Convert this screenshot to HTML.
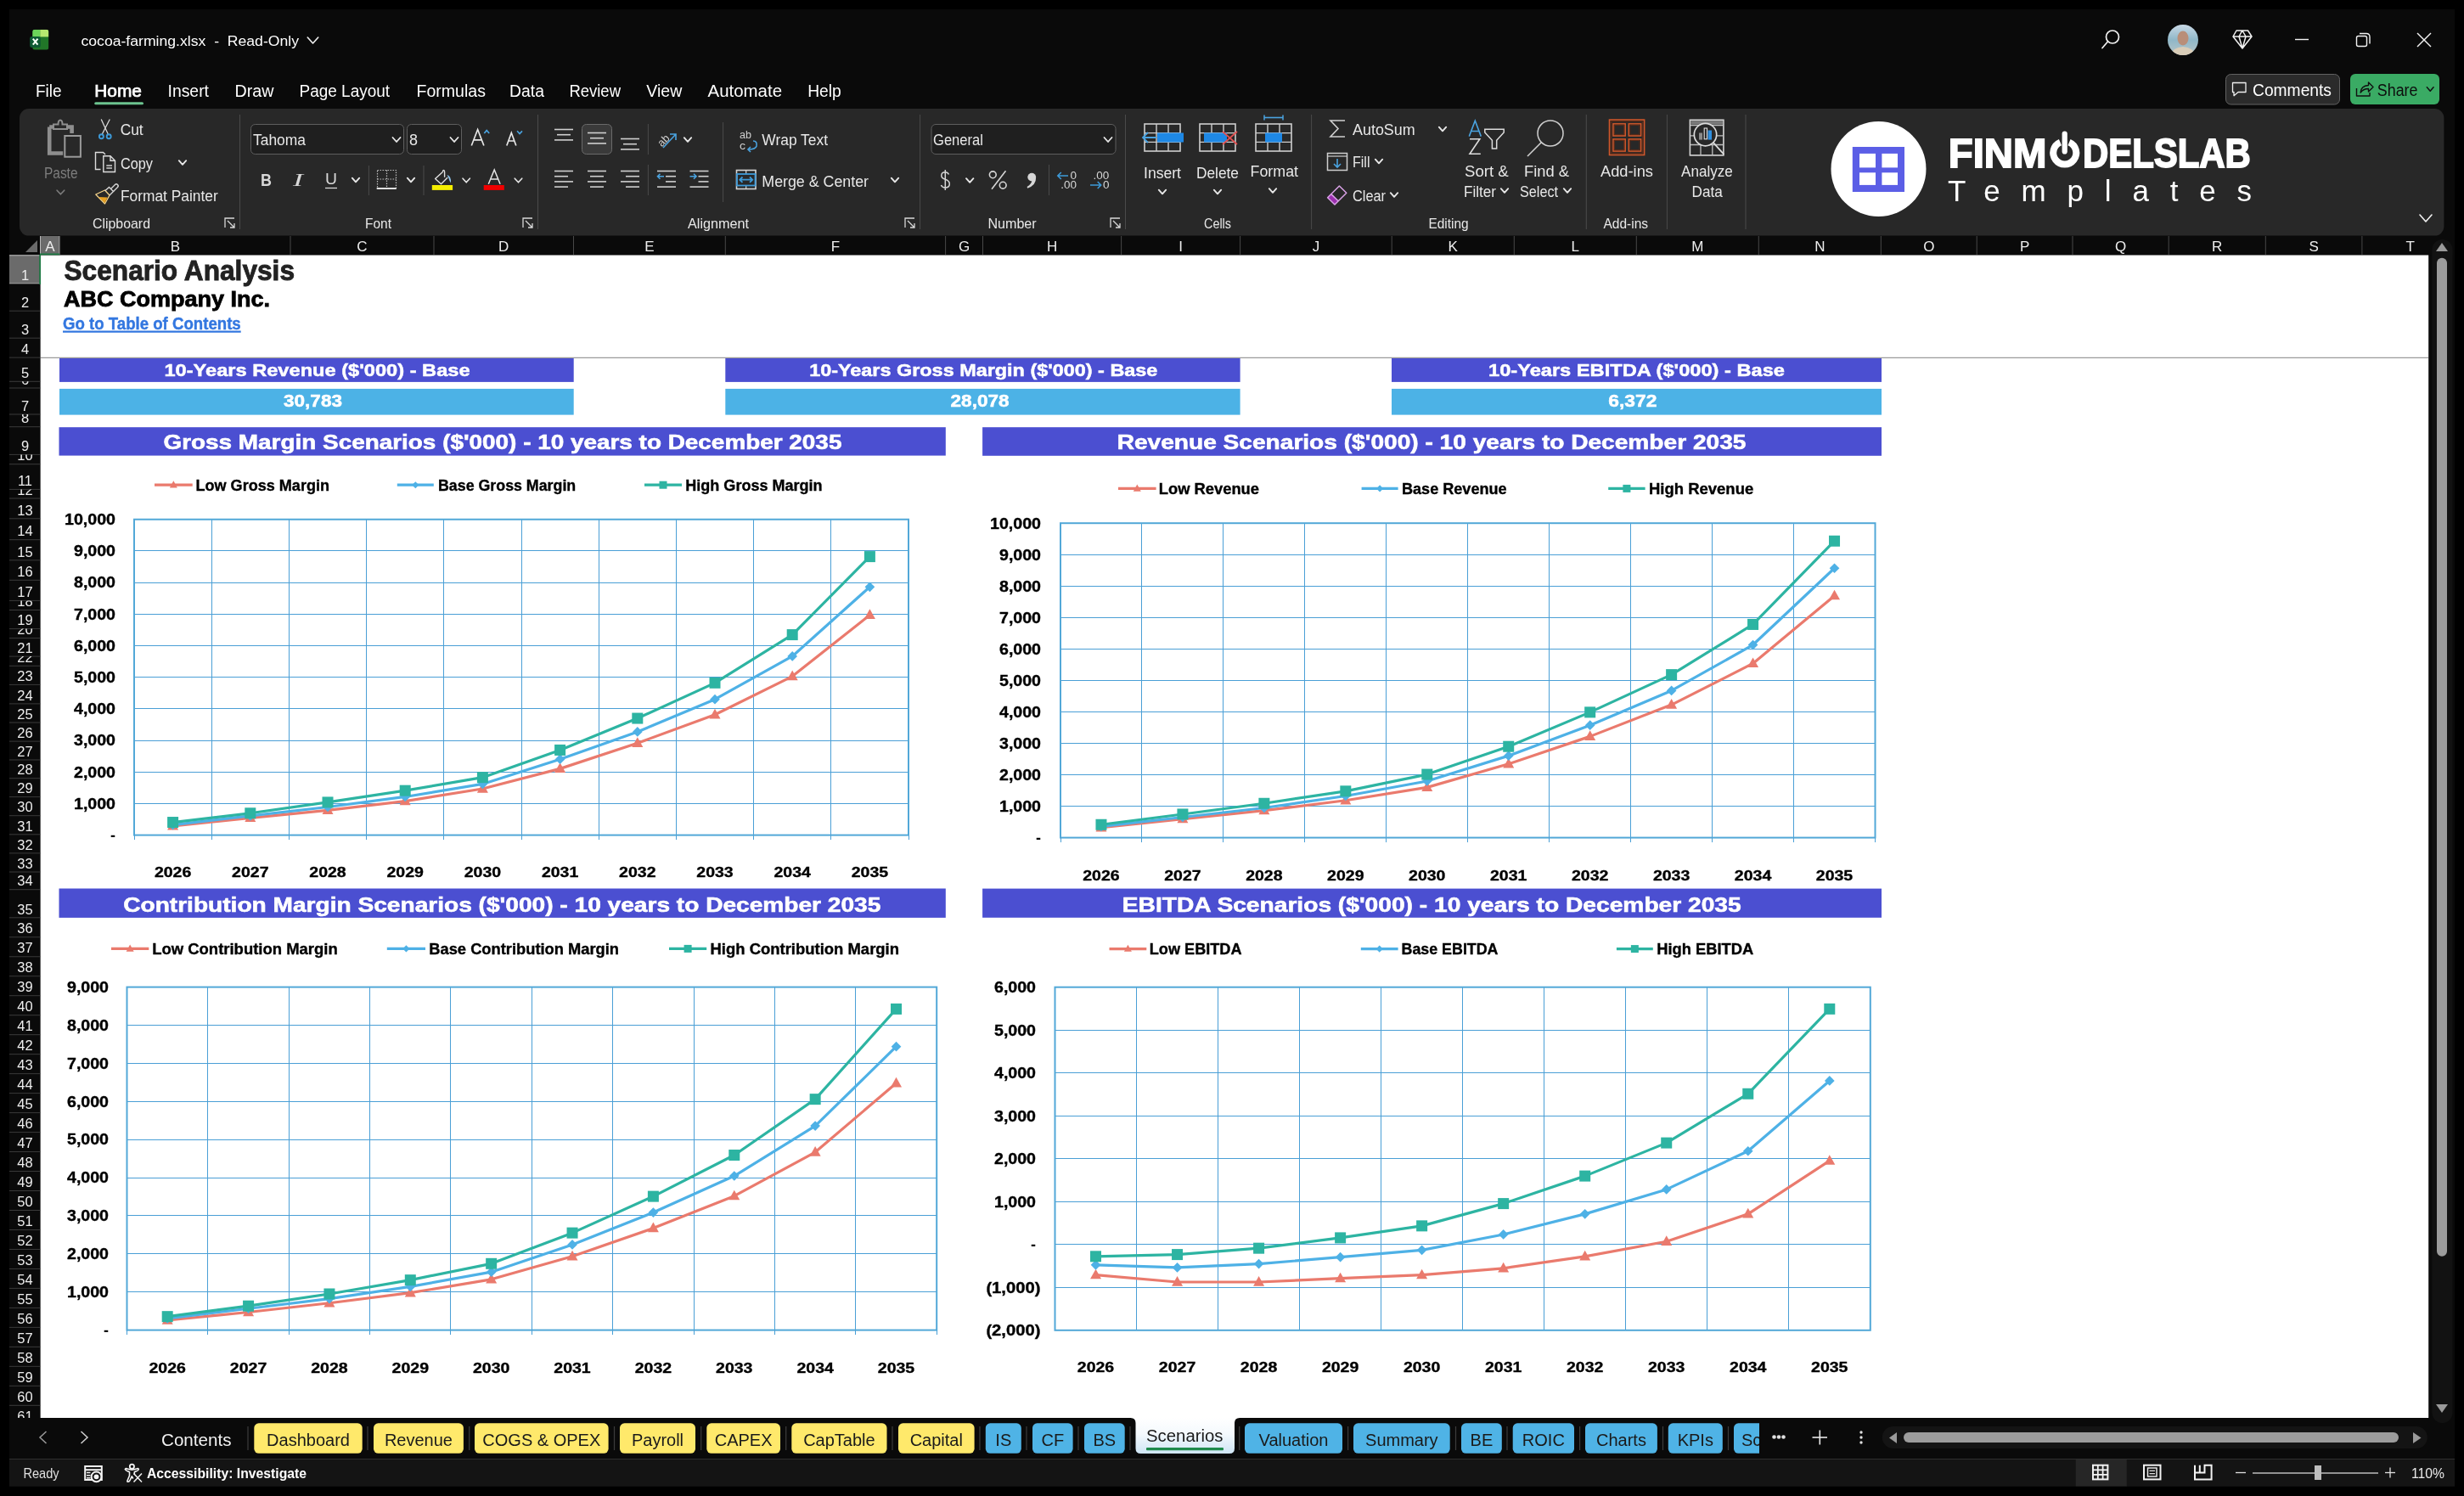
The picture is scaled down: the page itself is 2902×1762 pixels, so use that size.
<!DOCTYPE html><html><head><meta charset="utf-8"><title>cocoa-farming.xlsx - Excel</title><style>html,body{margin:0;padding:0;background:#000;overflow:hidden;width:2902px;height:1762px}svg{display:block;will-change:transform}</style></head><body>
<svg width="2902" height="1762" viewBox="0 0 2902 1762" shape-rendering="auto">
<rect x="0.00" y="0.00" width="2902.00" height="1762.00" fill="#000" />
<rect x="11.00" y="11.00" width="2880.00" height="1740.00" fill="#0a0a0a" />
<clipPath id="xl"><rect x="38.2" y="34.8" width="19.2" height="23.9" rx="3"/></clipPath><g clip-path="url(#xl)">
<rect x="38.20" y="34.80" width="19.20" height="23.90" fill="#217628" />
<rect x="38.20" y="34.80" width="9.10" height="8.60" fill="#6cd35a" />
<rect x="47.30" y="34.80" width="10.10" height="8.60" fill="#b8e870" />
</g>
<rect x="35.2" y="43" width="12.6" height="13" rx="2.2" fill="#0e5a33"/>
<path d="M38.8,45.6 L44.5,52.6 M44.5,45.6 L38.8,52.6" stroke="#f4fff4" fill="none" stroke-width="2.1" />
<text x="95.50" y="53.80" font-family='"Liberation Sans", sans-serif' font-size="17.2" font-weight="normal" fill="#ffffff" text-anchor="start" textLength="256.50" lengthAdjust="spacingAndGlyphs" xml:space="preserve">cocoa-farming.xlsx  -  Read-Only</text>
<path d="M362.25,44.00 L368.50,51.00 L374.75,44.00" stroke="#f0f0f0" fill="none" stroke-width="1.6" stroke-linecap="round" stroke-linejoin="round"/>
<circle cx="2488" cy="43.5" r="7.5" stroke="#f2f2f2" stroke-width="1.7" fill="none"/>
<line x1="2482.50" y1="49.00" x2="2476.00" y2="56.50" stroke="#f2f2f2" stroke-width="1.7" stroke-linecap="round"/>
<defs><radialGradient id="av" cx="50%" cy="45%" r="55%"><stop offset="0" stop-color="#c9a08a"/><stop offset="0.45" stop-color="#b88f7a"/><stop offset="0.7" stop-color="#8fa6b0"/><stop offset="1" stop-color="#6f8ea0"/></radialGradient></defs>
<defs><linearGradient id="avbg" x1="0" y1="0" x2="0" y2="1"><stop offset="0" stop-color="#c9d9e6"/><stop offset="0.5" stop-color="#8fb7c8"/><stop offset="1" stop-color="#b9c6c8"/></linearGradient></defs>
<clipPath id="avc"><circle cx="2571" cy="47" r="18"/></clipPath><g clip-path="url(#avc)">
<rect x="2553" y="29" width="36" height="36" fill="url(#avbg)"/>
<ellipse cx="2571" cy="45" rx="6.5" ry="8.5" fill="#b98e78"/>
<path d="M2556,66 Q2558,56 2571,55 Q2584,56 2586,66 Z" fill="#d9cdb8"/>
</g>
<path d="M2634,36 L2647.5,36 L2652,43 L2641,57 L2630,43 Z M2630,43 L2652,43 M2637,43 L2641,57 L2645,43 M2637,43 L2640.8,36 M2645,43 L2641,36" stroke="#f2f2f2" fill="none" stroke-width="1.5" stroke-linejoin="round"/>
<line x1="2703.00" y1="46.50" x2="2719.00" y2="46.50" stroke="#f2f2f2" stroke-width="1.4" />
<rect x="2775.5" y="42.5" width="12" height="12" rx="2" stroke="#f2f2f2" stroke-width="1.4" fill="none"/>
<path d="M2779,39.5 L2787,39.5 Q2791,39.5 2791,43.5 L2791,51.5" stroke="#f2f2f2" fill="none" stroke-width="1.4" />
<line x1="2847.00" y1="39.00" x2="2863.00" y2="55.00" stroke="#f2f2f2" stroke-width="1.5" />
<line x1="2863.00" y1="39.00" x2="2847.00" y2="55.00" stroke="#f2f2f2" stroke-width="1.5" />
<text x="41.90" y="113.80" font-family='"Liberation Sans", sans-serif' font-size="19.3" font-weight="normal" fill="#ffffff" text-anchor="start" textLength="30.60" lengthAdjust="spacingAndGlyphs" >File</text>
<text x="111.20" y="113.80" font-family='"Liberation Sans", sans-serif' font-size="19.3" font-weight="normal" fill="#ffffff" text-anchor="start" textLength="55.70" lengthAdjust="spacingAndGlyphs" stroke="#ffffff" stroke-width="0.7">Home</text>
<text x="197.50" y="113.80" font-family='"Liberation Sans", sans-serif' font-size="19.3" font-weight="normal" fill="#ffffff" text-anchor="start" textLength="48.50" lengthAdjust="spacingAndGlyphs" >Insert</text>
<text x="276.50" y="113.80" font-family='"Liberation Sans", sans-serif' font-size="19.3" font-weight="normal" fill="#ffffff" text-anchor="start" textLength="46.00" lengthAdjust="spacingAndGlyphs" >Draw</text>
<text x="352.50" y="113.80" font-family='"Liberation Sans", sans-serif' font-size="19.3" font-weight="normal" fill="#ffffff" text-anchor="start" textLength="106.60" lengthAdjust="spacingAndGlyphs" >Page Layout</text>
<text x="490.50" y="113.80" font-family='"Liberation Sans", sans-serif' font-size="19.3" font-weight="normal" fill="#ffffff" text-anchor="start" textLength="81.40" lengthAdjust="spacingAndGlyphs" >Formulas</text>
<text x="600.10" y="113.80" font-family='"Liberation Sans", sans-serif' font-size="19.3" font-weight="normal" fill="#ffffff" text-anchor="start" textLength="40.80" lengthAdjust="spacingAndGlyphs" >Data</text>
<text x="670.40" y="113.80" font-family='"Liberation Sans", sans-serif' font-size="19.3" font-weight="normal" fill="#ffffff" text-anchor="start" textLength="60.60" lengthAdjust="spacingAndGlyphs" >Review</text>
<text x="761.30" y="113.80" font-family='"Liberation Sans", sans-serif' font-size="19.3" font-weight="normal" fill="#ffffff" text-anchor="start" textLength="42.00" lengthAdjust="spacingAndGlyphs" >View</text>
<text x="833.50" y="113.80" font-family='"Liberation Sans", sans-serif' font-size="19.3" font-weight="normal" fill="#ffffff" text-anchor="start" textLength="87.50" lengthAdjust="spacingAndGlyphs" >Automate</text>
<text x="951.20" y="113.80" font-family='"Liberation Sans", sans-serif' font-size="19.3" font-weight="normal" fill="#ffffff" text-anchor="start" textLength="39.60" lengthAdjust="spacingAndGlyphs" >Help</text>
<rect x="111.20" y="120.30" width="57.80" height="3.00" fill="#6cc38f" rx="1.5" />
<rect x="2621.5" y="87.5" width="134" height="35.5" rx="6" fill="#2b2b2b" stroke="#626262" stroke-width="1"/>
<path d="M2629.5,97.5 L2645,97.5 L2645,108.5 L2636,108.5 L2631,112.7 L2631,108.5 L2629.5,108.5 Z" stroke="#f0f0f0" fill="none" stroke-width="1.3" stroke-linejoin="round"/>
<text x="2653.00" y="113.00" font-family='"Liberation Sans", sans-serif' font-size="19.5" font-weight="normal" fill="#ffffff" text-anchor="start" textLength="93.00" lengthAdjust="spacingAndGlyphs" >Comments</text>
<rect x="2768.00" y="87.00" width="105.00" height="36.00" fill="#3aab64" rx="6" />
<path d="M2775.5,104 L2775.5,113 L2791,113 L2791,109 M2780,109.5 Q2780.5,101 2789.5,100.5 L2789.5,97 L2795,102.5 L2789.5,108 L2789.5,104.5 Q2783,104.5 2780,109.5" stroke="#101010" fill="none" stroke-width="1.4" stroke-linejoin="round"/>
<text x="2799.80" y="113.00" font-family='"Liberation Sans", sans-serif' font-size="19.5" font-weight="normal" fill="#0d0d0d" text-anchor="start" textLength="47.70" lengthAdjust="spacingAndGlyphs" >Share</text>
<path d="M2858.35,102.70 L2862.20,107.30 L2866.05,102.70" stroke="#111" fill="none" stroke-width="1.5" stroke-linecap="round" stroke-linejoin="round"/>
<rect x="23" y="128" width="2855.4" height="149.6" rx="11" fill="#282828"/>
<text x="109.00" y="269.00" font-family='"Liberation Sans", sans-serif' font-size="17" font-weight="normal" fill="#e8e8e8" text-anchor="start" textLength="68.00" lengthAdjust="spacingAndGlyphs" >Clipboard</text>
<text x="430.00" y="269.00" font-family='"Liberation Sans", sans-serif' font-size="17" font-weight="normal" fill="#e8e8e8" text-anchor="start" textLength="31.00" lengthAdjust="spacingAndGlyphs" >Font</text>
<text x="810.00" y="269.00" font-family='"Liberation Sans", sans-serif' font-size="17" font-weight="normal" fill="#e8e8e8" text-anchor="start" textLength="72.00" lengthAdjust="spacingAndGlyphs" >Alignment</text>
<text x="1163.40" y="269.00" font-family='"Liberation Sans", sans-serif' font-size="17" font-weight="normal" fill="#e8e8e8" text-anchor="start" textLength="57.30" lengthAdjust="spacingAndGlyphs" >Number</text>
<text x="1418.00" y="269.00" font-family='"Liberation Sans", sans-serif' font-size="17" font-weight="normal" fill="#e8e8e8" text-anchor="start" textLength="32.00" lengthAdjust="spacingAndGlyphs" >Cells</text>
<text x="1682.50" y="269.00" font-family='"Liberation Sans", sans-serif' font-size="17" font-weight="normal" fill="#e8e8e8" text-anchor="start" textLength="47.10" lengthAdjust="spacingAndGlyphs" >Editing</text>
<text x="1888.50" y="269.00" font-family='"Liberation Sans", sans-serif' font-size="17" font-weight="normal" fill="#e8e8e8" text-anchor="start" textLength="52.50" lengthAdjust="spacingAndGlyphs" >Add-ins</text>
<line x1="282.50" y1="135.00" x2="282.50" y2="270.00" stroke="#4a4a4a" stroke-width="1" />
<line x1="633.50" y1="135.00" x2="633.50" y2="270.00" stroke="#4a4a4a" stroke-width="1" />
<line x1="1083.60" y1="135.00" x2="1083.60" y2="270.00" stroke="#4a4a4a" stroke-width="1" />
<line x1="1325.50" y1="135.00" x2="1325.50" y2="270.00" stroke="#4a4a4a" stroke-width="1" />
<line x1="1544.60" y1="135.00" x2="1544.60" y2="270.00" stroke="#4a4a4a" stroke-width="1" />
<line x1="1868.30" y1="135.00" x2="1868.30" y2="270.00" stroke="#4a4a4a" stroke-width="1" />
<line x1="1963.40" y1="135.00" x2="1963.40" y2="270.00" stroke="#4a4a4a" stroke-width="1" />
<line x1="2056.00" y1="135.00" x2="2056.00" y2="270.00" stroke="#4a4a4a" stroke-width="1" />
<path d="M265,268 L265,257 L276,257 M268,260 L276,268 M276,263 L276,268 L271,268" stroke="#d8d8d8" fill="none" stroke-width="1.3" />
<path d="M616,268 L616,257 L627,257 M619,260 L627,268 M627,263 L627,268 L622,268" stroke="#d8d8d8" fill="none" stroke-width="1.3" />
<path d="M1066,268 L1066,257 L1077,257 M1069,260 L1077,268 M1077,263 L1077,268 L1072,268" stroke="#d8d8d8" fill="none" stroke-width="1.3" />
<path d="M1308,268 L1308,257 L1319,257 M1311,260 L1319,268 M1319,263 L1319,268 L1314,268" stroke="#d8d8d8" fill="none" stroke-width="1.3" />
<path d="M58.2,149.5 L58.2,180.5 L74.2,180.5 M84.6,157 L84.6,149.5 L78.5,149.5 M63.5,149.5 L58.2,149.5" stroke="#8e8e8e" stroke-width="4.6" fill="none"/>
<path d="M63,152 L63,146.5 L68.5,146.5 Q68.5,141.5 71,141.5 Q73.5,141.5 73.5,146.5 L79,146.5 L79,152 Z" stroke="#8e8e8e" stroke-width="2" fill="#282828"/>
<rect x="76.3" y="160" width="18.6" height="24.7" stroke="#9a9a9a" stroke-width="2" fill="none"/>
<text x="52.00" y="210.00" font-family='"Liberation Sans", sans-serif' font-size="17.5" font-weight="normal" fill="#7d7d7d" text-anchor="start" textLength="39.50" lengthAdjust="spacingAndGlyphs" >Paste</text>
<path d="M67.10,224.20 L71.40,228.80 L75.70,224.20" stroke="#7d7d7d" fill="none" stroke-width="1.6" stroke-linecap="round" stroke-linejoin="round"/>
<path d="M119.2,140.5 L127.3,158 M129.3,140.5 L120.3,158" stroke="#d8d8d8" fill="none" stroke-width="1.3" />
<circle cx="119.4" cy="160.7" r="2.5" stroke="#3d9ad8" stroke-width="1.9" fill="none"/><circle cx="128.2" cy="160.7" r="2.5" stroke="#3d9ad8" stroke-width="1.9" fill="none"/>
<text x="141.70" y="159.00" font-family='"Liberation Sans", sans-serif' font-size="17.5" font-weight="normal" fill="#e8e8e8" text-anchor="start" textLength="27.00" lengthAdjust="spacingAndGlyphs" >Cut</text>
<path d="M118.5,199.5 L112.5,199.5 L112.5,179.5 L121.5,179.5 L124,182" stroke="#dcdcdc" fill="none" stroke-width="1.4" />
<path d="M121.8,183.7 L130,183.7 L135.5,189.2 L135.5,202.5 L121.8,202.5 Z M130,183.7 L130,189.2 L135.5,189.2" stroke="#dcdcdc" fill="none" stroke-width="1.4" />
<line x1="125.30" y1="195.00" x2="132.00" y2="195.00" stroke="#dcdcdc" stroke-width="1.4" />
<line x1="125.30" y1="198.00" x2="132.00" y2="198.00" stroke="#dcdcdc" stroke-width="1.4" />
<text x="142.00" y="198.50" font-family='"Liberation Sans", sans-serif' font-size="17.5" font-weight="normal" fill="#e8e8e8" text-anchor="start" textLength="38.00" lengthAdjust="spacingAndGlyphs" >Copy</text>
<path d="M210.80,189.20 L215.00,193.80 L219.20,189.20" stroke="#e8e8e8" fill="none" stroke-width="1.9" stroke-linecap="round" stroke-linejoin="round"/>
<path d="M112.8,229 L123.5,224 L129,230 L123.5,240 Z" stroke="#f3d28a" fill="none" stroke-width="1.3" stroke-linejoin="round"/>
<path d="M116,232 L126.5,232.5 L123.5,239 Z" stroke="none" fill="#e8a020" stroke-width="1" />
<path d="M124,224.5 L128.5,220.5 L133.5,225.5 L129,230" stroke="#d8d8d8" fill="none" stroke-width="1.4" />
<path d="M130.5,222.5 L135.5,217.5 Q137,216 138.5,217.5 Q140,219 138.5,220.5 L133.5,225.5" stroke="#d8d8d8" fill="none" stroke-width="1.4" />
<text x="142.00" y="237.00" font-family='"Liberation Sans", sans-serif' font-size="17.5" font-weight="normal" fill="#e8e8e8" text-anchor="start" textLength="114.70" lengthAdjust="spacingAndGlyphs" >Format Painter</text>
<rect x="295.5" y="146.5" width="180" height="35" rx="5" fill="#1f1f1f" stroke="#5e5e5e" stroke-width="1"/>
<text x="298.00" y="171.00" font-family='"Liberation Sans", sans-serif' font-size="17.5" font-weight="normal" fill="#e8e8e8" text-anchor="start" textLength="62.00" lengthAdjust="spacingAndGlyphs" >Tahoma</text>
<path d="M462.50,162.00 L467.00,167.00 L471.50,162.00" stroke="#e8e8e8" fill="none" stroke-width="1.8" stroke-linecap="round" stroke-linejoin="round"/>
<rect x="479.5" y="146.5" width="64" height="35" rx="5" fill="#1f1f1f" stroke="#5e5e5e" stroke-width="1"/>
<text x="482.00" y="171.00" font-family='"Liberation Sans", sans-serif' font-size="17.5" font-weight="normal" fill="#e8e8e8" text-anchor="start" textLength="10.00" lengthAdjust="spacingAndGlyphs" >8</text>
<path d="M530.50,162.00 L535.00,167.00 L539.50,162.00" stroke="#e8e8e8" fill="none" stroke-width="1.8" stroke-linecap="round" stroke-linejoin="round"/>
<path d="M555.3,171.5 L562.6,152.5 L569.9,171.5 M558,164.8 L567.2,164.8" stroke="#e6e6e6" fill="none" stroke-width="1.7" />
<path d="M570.3,157 L573.2,153.6 L576.2,157" stroke="#4aa3e0" fill="none" stroke-width="1.7" />
<path d="M596.8,171.5 L602.3,156.5 L607.8,171.5 M598.9,166 L605.7,166" stroke="#e6e6e6" fill="none" stroke-width="1.7" />
<path d="M609.1,154.3 L612,157.5 L615,154.3" stroke="#4aa3e0" fill="none" stroke-width="1.7" />
<text x="307.00" y="219.00" font-family='"Liberation Sans", sans-serif' font-size="20" font-weight="bold" fill="#d8d8d8" text-anchor="start" textLength="13.00" lengthAdjust="spacingAndGlyphs" >B</text>
<text x="345.00" y="219.00" font-family='Liberation Serif' font-size="21" font-weight="normal" fill="#d8d8d8" text-anchor="start" textLength="12.00" lengthAdjust="spacingAndGlyphs" font-style="italic">I</text>
<text x="383.00" y="217.00" font-family='"Liberation Sans", sans-serif' font-size="19" font-weight="normal" fill="#d8d8d8" text-anchor="start" textLength="14.00" lengthAdjust="spacingAndGlyphs" >U</text>
<line x1="383.00" y1="221.50" x2="397.00" y2="221.50" stroke="#d8d8d8" stroke-width="1.3" />
<path d="M414.80,209.70 L419.00,214.30 L423.20,209.70" stroke="#e8e8e8" fill="none" stroke-width="1.9" stroke-linecap="round" stroke-linejoin="round"/>
<line x1="434.40" y1="195.00" x2="434.40" y2="230.00" stroke="#4a4a4a" stroke-width="1" />
<rect x="444.5" y="200.5" width="22" height="21" stroke="#bdbdbd" stroke-width="1.2" stroke-dasharray="1.5,1.5" fill="none"/>
<line x1="455.50" y1="200.50" x2="455.50" y2="221.50" stroke="#bdbdbd" stroke-width="1.2" stroke-dasharray="1.5,1.5"/>
<line x1="444.50" y1="211.00" x2="466.50" y2="211.00" stroke="#bdbdbd" stroke-width="1.2" stroke-dasharray="1.5,1.5"/>
<line x1="443.70" y1="222.00" x2="466.80" y2="222.00" stroke="#e0e0e0" stroke-width="2" />
<path d="M479.80,209.70 L484.00,214.30 L488.20,209.70" stroke="#e8e8e8" fill="none" stroke-width="1.9" stroke-linecap="round" stroke-linejoin="round"/>
<line x1="499.00" y1="195.00" x2="499.00" y2="230.00" stroke="#4a4a4a" stroke-width="1" />
<path d="M521.4,202.5 L512.6,210.6 L519.5,216.7 L527.2,209 M521.4,202.5 Q521.4,200.5 522.5,200.5 Q523.6,200.5 523.6,202.5 L523.6,208.8" stroke="#e0e0e0" fill="none" stroke-width="1.4" stroke-linejoin="round"/>
<path d="M526.5,206 Q531.5,207 531,215.5 Q529.5,214 528.5,210 Z" stroke="none" fill="#8fc6ee" stroke-width="1" />
<rect x="508.80" y="218.00" width="24.30" height="5.90" fill="#f5ee00" />
<path d="M545.05,210.20 L549.20,214.80 L553.35,210.20" stroke="#e8e8e8" fill="none" stroke-width="1.6" stroke-linecap="round" stroke-linejoin="round"/>
<path d="M575.3,216.8 L582.2,200 L589.1,216.8 M577.8,211 L586.6,211" stroke="#e6e6e6" fill="none" stroke-width="1.5" />
<rect x="569.70" y="218.00" width="24.10" height="5.90" fill="#f00000" />
<path d="M606.25,210.20 L610.50,214.80 L614.75,210.20" stroke="#e8e8e8" fill="none" stroke-width="1.6" stroke-linecap="round" stroke-linejoin="round"/>
<line x1="653.00" y1="152.50" x2="675.00" y2="152.50" stroke="#d0d0d0" stroke-width="1.6" />
<line x1="656.00" y1="158.70" x2="672.00" y2="158.70" stroke="#d0d0d0" stroke-width="1.6" />
<line x1="653.00" y1="164.90" x2="675.00" y2="164.90" stroke="#d0d0d0" stroke-width="1.6" />
<rect x="685.5" y="146.5" width="35" height="35" rx="5" fill="#3a3a3a" stroke="#6a6a6a" stroke-width="1"/>
<line x1="692.00" y1="156.50" x2="714.00" y2="156.50" stroke="#d0d0d0" stroke-width="1.6" />
<line x1="695.00" y1="162.70" x2="711.00" y2="162.70" stroke="#d0d0d0" stroke-width="1.6" />
<line x1="692.00" y1="168.90" x2="714.00" y2="168.90" stroke="#d0d0d0" stroke-width="1.6" />
<line x1="731.00" y1="163.50" x2="753.00" y2="163.50" stroke="#d0d0d0" stroke-width="1.6" />
<line x1="734.00" y1="169.70" x2="750.00" y2="169.70" stroke="#d0d0d0" stroke-width="1.6" />
<line x1="731.00" y1="175.90" x2="753.00" y2="175.90" stroke="#d0d0d0" stroke-width="1.6" />
<line x1="763.40" y1="146.00" x2="763.40" y2="182.00" stroke="#4a4a4a" stroke-width="1" />
<text x="774.00" y="170.00" font-family='"Liberation Sans", sans-serif' font-size="13" font-weight="normal" fill="#d0d0d0" text-anchor="start" textLength="14.00" lengthAdjust="spacingAndGlyphs" transform="rotate(-45 781 165)">ab</text>
<path d="M781,174 L796,158 M789,158 L796,158 L796,165" stroke="#4aa3e0" fill="none" stroke-width="1.6" />
<path d="M805.80,162.20 L810.00,166.80 L814.20,162.20" stroke="#e8e8e8" fill="none" stroke-width="1.9" stroke-linecap="round" stroke-linejoin="round"/>
<line x1="851.60" y1="144.00" x2="851.60" y2="238.00" stroke="#4a4a4a" stroke-width="1" />
<text x="871.00" y="163.00" font-family='"Liberation Sans", sans-serif' font-size="12" font-weight="normal" fill="#d0d0d0" text-anchor="start" textLength="14.00" lengthAdjust="spacingAndGlyphs" >ab</text>
<text x="871.00" y="176.00" font-family='"Liberation Sans", sans-serif' font-size="12" font-weight="normal" fill="#d0d0d0" text-anchor="start" textLength="7.00" lengthAdjust="spacingAndGlyphs" >c</text>
<path d="M887,166 Q892,166 891,172 Q890,176 881,176 M884,173 L881,176 L884,179" stroke="#4aa3e0" fill="none" stroke-width="1.6" />
<text x="897.30" y="171.00" font-family='"Liberation Sans", sans-serif' font-size="17.5" font-weight="normal" fill="#e8e8e8" text-anchor="start" textLength="77.70" lengthAdjust="spacingAndGlyphs" >Wrap Text</text>
<line x1="653.00" y1="201.50" x2="675.00" y2="201.50" stroke="#d0d0d0" stroke-width="1.6" />
<line x1="653.00" y1="207.70" x2="669.00" y2="207.70" stroke="#d0d0d0" stroke-width="1.6" />
<line x1="653.00" y1="213.90" x2="675.00" y2="213.90" stroke="#d0d0d0" stroke-width="1.6" />
<line x1="653.00" y1="220.10" x2="669.00" y2="220.10" stroke="#d0d0d0" stroke-width="1.6" />
<line x1="692.00" y1="201.50" x2="714.00" y2="201.50" stroke="#d0d0d0" stroke-width="1.6" />
<line x1="695.00" y1="207.70" x2="711.00" y2="207.70" stroke="#d0d0d0" stroke-width="1.6" />
<line x1="692.00" y1="213.90" x2="714.00" y2="213.90" stroke="#d0d0d0" stroke-width="1.6" />
<line x1="695.00" y1="220.10" x2="711.00" y2="220.10" stroke="#d0d0d0" stroke-width="1.6" />
<line x1="731.00" y1="201.50" x2="753.00" y2="201.50" stroke="#d0d0d0" stroke-width="1.6" />
<line x1="737.00" y1="207.70" x2="753.00" y2="207.70" stroke="#d0d0d0" stroke-width="1.6" />
<line x1="731.00" y1="213.90" x2="753.00" y2="213.90" stroke="#d0d0d0" stroke-width="1.6" />
<line x1="737.00" y1="220.10" x2="753.00" y2="220.10" stroke="#d0d0d0" stroke-width="1.6" />
<line x1="763.40" y1="194.00" x2="763.40" y2="230.00" stroke="#4a4a4a" stroke-width="1" />
<line x1="774.00" y1="201.50" x2="796.00" y2="201.50" stroke="#d0d0d0" stroke-width="1.6" />
<line x1="784.00" y1="207.70" x2="796.00" y2="207.70" stroke="#d0d0d0" stroke-width="1.6" />
<line x1="784.00" y1="213.90" x2="796.00" y2="213.90" stroke="#d0d0d0" stroke-width="1.6" />
<line x1="774.00" y1="220.10" x2="796.00" y2="220.10" stroke="#d0d0d0" stroke-width="1.6" />
<path d="M782,207.7 L774.5,207.7 M777.5,204.7 L774.5,207.7 L777.5,210.7" stroke="#4aa3e0" fill="none" stroke-width="1.6" />
<line x1="812.50" y1="201.50" x2="834.50" y2="201.50" stroke="#d0d0d0" stroke-width="1.6" />
<line x1="822.50" y1="207.70" x2="834.50" y2="207.70" stroke="#d0d0d0" stroke-width="1.6" />
<line x1="822.50" y1="213.90" x2="834.50" y2="213.90" stroke="#d0d0d0" stroke-width="1.6" />
<line x1="812.50" y1="220.10" x2="834.50" y2="220.10" stroke="#d0d0d0" stroke-width="1.6" />
<path d="M812.5,207.7 L820,207.7 M817,204.7 L820,207.7 L817,210.7" stroke="#4aa3e0" fill="none" stroke-width="1.6" />
<rect x="867.5" y="200.5" width="22.5" height="22" stroke="#d6d6d6" stroke-width="1.6" fill="none"/>
<line x1="878.70" y1="200.50" x2="878.70" y2="205.00" stroke="#d6d6d6" stroke-width="1.2" />
<line x1="878.70" y1="218.50" x2="878.70" y2="223.00" stroke="#d6d6d6" stroke-width="1.2" />
<rect x="868" y="205" width="21.5" height="13.5" stroke="#3d9ad8" stroke-width="1.8" fill="none"/>
<path d="M871.5,211.7 L886,211.7 M874.5,208.5 L871.3,211.7 L874.5,214.9 M883,208.5 L886.2,211.7 L883,214.9" stroke="#3d9ad8" fill="none" stroke-width="1.8" />
<text x="897.30" y="219.50" font-family='"Liberation Sans", sans-serif' font-size="17.5" font-weight="normal" fill="#e8e8e8" text-anchor="start" textLength="125.70" lengthAdjust="spacingAndGlyphs" >Merge &amp; Center</text>
<path d="M1049.80,209.70 L1054.00,214.30 L1058.20,209.70" stroke="#e8e8e8" fill="none" stroke-width="1.9" stroke-linecap="round" stroke-linejoin="round"/>
<rect x="1097" y="146.5" width="217" height="35" rx="5" fill="#1f1f1f" stroke="#5e5e5e" stroke-width="1"/>
<text x="1099.00" y="171.00" font-family='"Liberation Sans", sans-serif' font-size="17.5" font-weight="normal" fill="#e8e8e8" text-anchor="start" textLength="59.00" lengthAdjust="spacingAndGlyphs" >General</text>
<path d="M1300.50,162.00 L1305.00,167.00 L1309.50,162.00" stroke="#e8e8e8" fill="none" stroke-width="1.8" stroke-linecap="round" stroke-linejoin="round"/>
<path d="M1117.5,205.5 Q1116,202.8 1113.2,202.8 Q1108.8,202.8 1108.8,206.8 Q1108.8,210 1113.2,211.3 Q1118.3,212.8 1118.3,216.8 Q1118.3,221 1113.2,221 Q1109.6,221 1108.4,218 M1113.3,200 L1113.3,224" stroke="#d6d6d6" fill="none" stroke-width="1.5" />
<path d="M1138.00,210.20 L1142.20,214.80 L1146.40,210.20" stroke="#e8e8e8" fill="none" stroke-width="1.9" stroke-linecap="round" stroke-linejoin="round"/>
<circle cx="1169.3" cy="205.8" r="3.9" stroke="#d6d6d6" stroke-width="1.6" fill="none"/><circle cx="1181.2" cy="218.2" r="3.9" stroke="#d6d6d6" stroke-width="1.6" fill="none"/>
<line x1="1184.50" y1="201.30" x2="1168.00" y2="222.80" stroke="#d6d6d6" stroke-width="1.6" />
<circle cx="1215.2" cy="208.6" r="4.9" fill="#d6d6d6"/>
<path d="M1220.1,208.8 Q1220.6,218 1210.2,221.8 L1209.6,220 Q1215.3,216.5 1215.5,212 Z" stroke="none" fill="#d6d6d6" stroke-width="1" />
<line x1="1235.50" y1="194.00" x2="1235.50" y2="230.00" stroke="#4a4a4a" stroke-width="1" />
<text x="1260.50" y="210.50" font-family='"Liberation Sans", sans-serif' font-size="13.5" font-weight="normal" fill="#d6d6d6" text-anchor="start" textLength="7.50" lengthAdjust="spacingAndGlyphs" >0</text>
<text x="1249.30" y="222.40" font-family='"Liberation Sans", sans-serif' font-size="13.5" font-weight="normal" fill="#d6d6d6" text-anchor="start" textLength="18.70" lengthAdjust="spacingAndGlyphs" >.00</text>
<path d="M1258,207 L1246,207 M1249.8,203 L1245.8,207 L1249.8,211" stroke="#3d9ad8" fill="none" stroke-width="1.6" />
<text x="1287.50" y="210.50" font-family='"Liberation Sans", sans-serif' font-size="13.5" font-weight="normal" fill="#d6d6d6" text-anchor="start" textLength="18.70" lengthAdjust="spacingAndGlyphs" >.00</text>
<text x="1299.00" y="222.40" font-family='"Liberation Sans", sans-serif' font-size="13.5" font-weight="normal" fill="#d6d6d6" text-anchor="start" textLength="7.50" lengthAdjust="spacingAndGlyphs" >0</text>
<path d="M1284,218 L1296.5,218 M1292.7,214 L1296.7,218 L1292.7,222" stroke="#3d9ad8" fill="none" stroke-width="1.6" />
<rect x="1348" y="146" width="42" height="32" stroke="#cfcfcf" stroke-width="1.6" fill="none"/>
<line x1="1362.00" y1="146.00" x2="1362.00" y2="178.00" stroke="#cfcfcf" stroke-width="1.4" />
<line x1="1376.00" y1="146.00" x2="1376.00" y2="178.00" stroke="#cfcfcf" stroke-width="1.4" />
<line x1="1348.00" y1="156.67" x2="1390.00" y2="156.67" stroke="#cfcfcf" stroke-width="1.4" />
<line x1="1348.00" y1="167.33" x2="1390.00" y2="167.33" stroke="#cfcfcf" stroke-width="1.4" />
<rect x="1363.00" y="156.50" width="31.00" height="11.00" fill="#1e88e5" />
<path d="M1346,162 L1362,162 M1352,156 L1346,162 L1352,168" stroke="#4aa3e0" fill="none" stroke-width="1.8" />
<text x="1347.00" y="210.00" font-family='"Liberation Sans", sans-serif' font-size="17.5" font-weight="normal" fill="#e8e8e8" text-anchor="start" textLength="44.00" lengthAdjust="spacingAndGlyphs" >Insert</text>
<path d="M1364.80,223.70 L1369.00,228.30 L1373.20,223.70" stroke="#e8e8e8" fill="none" stroke-width="1.9" stroke-linecap="round" stroke-linejoin="round"/>
<rect x="1413" y="146" width="42" height="32" stroke="#cfcfcf" stroke-width="1.6" fill="none"/>
<line x1="1427.00" y1="146.00" x2="1427.00" y2="178.00" stroke="#cfcfcf" stroke-width="1.4" />
<line x1="1441.00" y1="146.00" x2="1441.00" y2="178.00" stroke="#cfcfcf" stroke-width="1.4" />
<line x1="1413.00" y1="156.67" x2="1455.00" y2="156.67" stroke="#cfcfcf" stroke-width="1.4" />
<line x1="1413.00" y1="167.33" x2="1455.00" y2="167.33" stroke="#cfcfcf" stroke-width="1.4" />
<rect x="1418.00" y="156.50" width="27.00" height="11.00" fill="#1e88e5" />
<path d="M1440,155 L1457,170 M1457,155 L1440,170" stroke="#e05050" fill="none" stroke-width="1.8" />
<text x="1409.00" y="210.00" font-family='"Liberation Sans", sans-serif' font-size="17.5" font-weight="normal" fill="#e8e8e8" text-anchor="start" textLength="50.00" lengthAdjust="spacingAndGlyphs" >Delete</text>
<path d="M1429.80,223.70 L1434.00,228.30 L1438.20,223.70" stroke="#e8e8e8" fill="none" stroke-width="1.9" stroke-linecap="round" stroke-linejoin="round"/>
<rect x="1479" y="146" width="42" height="32" stroke="#cfcfcf" stroke-width="1.6" fill="none"/>
<line x1="1493.00" y1="146.00" x2="1493.00" y2="178.00" stroke="#cfcfcf" stroke-width="1.4" />
<line x1="1507.00" y1="146.00" x2="1507.00" y2="178.00" stroke="#cfcfcf" stroke-width="1.4" />
<line x1="1479.00" y1="156.67" x2="1521.00" y2="156.67" stroke="#cfcfcf" stroke-width="1.4" />
<line x1="1479.00" y1="167.33" x2="1521.00" y2="167.33" stroke="#cfcfcf" stroke-width="1.4" />
<rect x="1490.00" y="156.50" width="20.00" height="11.00" fill="#1e88e5" />
<line x1="1489.00" y1="138.50" x2="1511.00" y2="138.50" stroke="#4aa3e0" stroke-width="1.6" />
<line x1="1489.00" y1="135.50" x2="1489.00" y2="141.50" stroke="#4aa3e0" stroke-width="1.5" />
<line x1="1511.00" y1="135.50" x2="1511.00" y2="141.50" stroke="#4aa3e0" stroke-width="1.5" />
<text x="1472.60" y="208.00" font-family='"Liberation Sans", sans-serif' font-size="17.5" font-weight="normal" fill="#e8e8e8" text-anchor="start" textLength="56.40" lengthAdjust="spacingAndGlyphs" >Format</text>
<path d="M1494.80,222.20 L1499.00,226.80 L1503.20,222.20" stroke="#e8e8e8" fill="none" stroke-width="1.9" stroke-linecap="round" stroke-linejoin="round"/>
<path d="M1584,142 L1567,142 L1576,151.5 L1567,161 L1584,161" stroke="#d0d0d0" fill="none" stroke-width="1.6" />
<text x="1593.00" y="159.00" font-family='"Liberation Sans", sans-serif' font-size="17.5" font-weight="normal" fill="#e8e8e8" text-anchor="start" textLength="73.70" lengthAdjust="spacingAndGlyphs" >AutoSum</text>
<path d="M1694.80,149.70 L1699.00,154.30 L1703.20,149.70" stroke="#e8e8e8" fill="none" stroke-width="1.9" stroke-linecap="round" stroke-linejoin="round"/>
<rect x="1563.5" y="180.5" width="23" height="20" stroke="#cfcfcf" stroke-width="1.5" fill="none"/>
<line x1="1563.50" y1="184.00" x2="1586.50" y2="184.00" stroke="#cfcfcf" stroke-width="1.2" />
<path d="M1575,187 L1575,197 M1571,193 L1575,197 L1579,193" stroke="#4aa3e0" fill="none" stroke-width="1.6" />
<text x="1593.00" y="197.00" font-family='"Liberation Sans", sans-serif' font-size="17.5" font-weight="normal" fill="#e8e8e8" text-anchor="start" textLength="20.50" lengthAdjust="spacingAndGlyphs" >Fill</text>
<path d="M1619.80,187.70 L1624.00,192.30 L1628.20,187.70" stroke="#e8e8e8" fill="none" stroke-width="1.9" stroke-linecap="round" stroke-linejoin="round"/>
<path d="M1563.6,232.8 L1577.4,219 L1585.8,227.2 L1572,241 Z" stroke="none" fill="#9b2fae" stroke-width="1" />
<path d="M1567.8,228.6 L1576.2,236.8 L1585.8,227.2 L1577.4,219 Z" stroke="none" fill="#282828" stroke-width="1" />
<path d="M1563.6,232.8 L1577.4,219 L1585.8,227.2 L1572,241 Z M1567.8,228.6 L1576.2,236.8" stroke="#d9a2e6" fill="none" stroke-width="1.5" stroke-linejoin="round"/>
<text x="1593.00" y="236.50" font-family='"Liberation Sans", sans-serif' font-size="17.5" font-weight="normal" fill="#e8e8e8" text-anchor="start" textLength="39.00" lengthAdjust="spacingAndGlyphs" >Clear</text>
<path d="M1637.80,227.20 L1642.00,231.80 L1646.20,227.20" stroke="#e8e8e8" fill="none" stroke-width="1.9" stroke-linecap="round" stroke-linejoin="round"/>
<path d="M1730.3,160.6 L1737.3,142.3 L1744.3,160.6 M1732.6,154.5 L1742,154.5" stroke="#4aa3e0" fill="none" stroke-width="1.6" />
<path d="M1731,163.8 L1742.8,163.8 L1731,181.3 L1743.8,181.3" stroke="#dcdcdc" fill="none" stroke-width="1.6" />
<path d="M1748.8,152.3 L1771.2,152.3 L1771.2,156 L1762.7,165.2 L1762.7,175 L1757.4,175 L1757.4,165.2 L1748.8,156 Z" stroke="#dcdcdc" fill="none" stroke-width="1.5" stroke-linejoin="miter"/>
<text x="1725.00" y="208.00" font-family='"Liberation Sans", sans-serif' font-size="17.5" font-weight="normal" fill="#e8e8e8" text-anchor="start" textLength="51.70" lengthAdjust="spacingAndGlyphs" >Sort &amp;</text>
<text x="1724.00" y="232.00" font-family='"Liberation Sans", sans-serif' font-size="17.5" font-weight="normal" fill="#e8e8e8" text-anchor="start" textLength="38.00" lengthAdjust="spacingAndGlyphs" >Filter</text>
<path d="M1767.80,222.20 L1772.00,226.80 L1776.20,222.20" stroke="#e8e8e8" fill="none" stroke-width="1.9" stroke-linecap="round" stroke-linejoin="round"/>
<circle cx="1826" cy="157" r="15" stroke="#d0d0d0" stroke-width="1.5" fill="none"/>
<line x1="1815.50" y1="167.50" x2="1799.00" y2="184.00" stroke="#d0d0d0" stroke-width="1.6" />
<text x="1795.00" y="208.00" font-family='"Liberation Sans", sans-serif' font-size="17.5" font-weight="normal" fill="#e8e8e8" text-anchor="start" textLength="53.00" lengthAdjust="spacingAndGlyphs" >Find &amp;</text>
<text x="1790.00" y="232.00" font-family='"Liberation Sans", sans-serif' font-size="17.5" font-weight="normal" fill="#e8e8e8" text-anchor="start" textLength="45.00" lengthAdjust="spacingAndGlyphs" >Select</text>
<path d="M1841.80,222.20 L1846.00,226.80 L1850.20,222.20" stroke="#e8e8e8" fill="none" stroke-width="1.9" stroke-linecap="round" stroke-linejoin="round"/>
<rect x="1895.5" y="141.1" width="41.1" height="41.4" stroke="#d2572a" stroke-width="1.6" fill="none"/>
<rect x="1897.6" y="143.2" width="36.9" height="37.2" stroke="#5a2a18" stroke-width="1.2" fill="none"/>
<rect x="1899.9" y="145.8" width="14.3" height="14.2" stroke="#d2572a" stroke-width="1.5" fill="none"/>
<rect x="1901.5" y="147.4" width="11.1" height="11" stroke="#5a2a18" stroke-width="1" fill="none"/>
<rect x="1918.3" y="145.8" width="14.3" height="14.2" stroke="#d2572a" stroke-width="1.5" fill="none"/>
<rect x="1919.8999999999999" y="147.4" width="11.1" height="11" stroke="#5a2a18" stroke-width="1" fill="none"/>
<rect x="1899.9" y="163.9" width="14.3" height="14.2" stroke="#d2572a" stroke-width="1.5" fill="none"/>
<rect x="1901.5" y="165.5" width="11.1" height="11" stroke="#5a2a18" stroke-width="1" fill="none"/>
<rect x="1918.3" y="163.9" width="14.3" height="14.2" stroke="#d2572a" stroke-width="1.5" fill="none"/>
<rect x="1919.8999999999999" y="165.5" width="11.1" height="11" stroke="#5a2a18" stroke-width="1" fill="none"/>
<text x="1885.00" y="208.00" font-family='"Liberation Sans", sans-serif' font-size="17.5" font-weight="normal" fill="#e8e8e8" text-anchor="start" textLength="62.00" lengthAdjust="spacingAndGlyphs" >Add-ins</text>
<rect x="1990.4" y="141.3" width="39.5" height="41.6" stroke="#d6d6d6" stroke-width="1.6" fill="none"/>
<rect x="1991.20" y="142.10" width="38.00" height="4.60" fill="#7a7a7a" />
<line x1="1991.00" y1="147.60" x2="2029.50" y2="147.60" stroke="#bdbdbd" stroke-width="1.3" />
<line x1="1991.00" y1="159.80" x2="2029.50" y2="159.80" stroke="#bdbdbd" stroke-width="1.3" />
<line x1="1991.00" y1="170.50" x2="2029.50" y2="170.50" stroke="#bdbdbd" stroke-width="1.3" />
<line x1="2003.00" y1="170.50" x2="2003.00" y2="182.50" stroke="#bdbdbd" stroke-width="1.3" />
<line x1="2016.80" y1="170.50" x2="2016.80" y2="182.50" stroke="#bdbdbd" stroke-width="1.3" />
<circle cx="2008.5" cy="158.6" r="13.2" stroke="#dcdcdc" stroke-width="1.7" fill="#282828"/>
<rect x="2001.00" y="156.50" width="4.00" height="8.10" fill="#8a8a8a" />
<rect x="2007.2" y="151" width="3.3" height="12.8" stroke="#e0e0e0" stroke-width="1.1" fill="none"/>
<rect x="2011.60" y="153.50" width="4.40" height="11.10" fill="#2f8fe0" />
<line x1="2018.00" y1="168.20" x2="2030.40" y2="181.80" stroke="#dcdcdc" stroke-width="1.8" />
<text x="1980.00" y="208.00" font-family='"Liberation Sans", sans-serif' font-size="17.5" font-weight="normal" fill="#e8e8e8" text-anchor="start" textLength="60.80" lengthAdjust="spacingAndGlyphs" >Analyze</text>
<text x="1992.50" y="232.00" font-family='"Liberation Sans", sans-serif' font-size="17.5" font-weight="normal" fill="#e8e8e8" text-anchor="start" textLength="36.20" lengthAdjust="spacingAndGlyphs" >Data</text>
<circle cx="2212.5" cy="199" r="56" fill="#ffffff"/>
<rect x="2181.80" y="173.00" width="61.20" height="53.00" fill="#5b5ee6" />
<rect x="2190.00" y="180.90" width="19.00" height="16.50" fill="#ffffff" />
<rect x="2216.40" y="180.90" width="18.60" height="16.50" fill="#ffffff" />
<rect x="2190.00" y="203.30" width="19.00" height="14.60" fill="#ffffff" />
<rect x="2216.40" y="203.30" width="18.60" height="14.60" fill="#ffffff" />
<text x="2294.80" y="197.40" font-family='"Liberation Sans", sans-serif' font-size="48" font-weight="bold" fill="#ffffff" text-anchor="start" textLength="115.60" lengthAdjust="spacingAndGlyphs" stroke="#ffffff" stroke-width="1.8">FINM</text>
<path d="M2426.5,167.6 A13.5,13.5 0 1 0 2437,167.6" stroke="#ffffff" stroke-width="8" fill="none"/>
<line x1="2431.7" y1="157.5" x2="2431.7" y2="178.5" stroke="#ffffff" stroke-width="6.2" stroke-linecap="round"/>
<text x="2453.00" y="197.40" font-family='"Liberation Sans", sans-serif' font-size="48" font-weight="bold" fill="#ffffff" text-anchor="start" textLength="197.80" lengthAdjust="spacingAndGlyphs" stroke="#ffffff" stroke-width="1.8">DELSLAB</text>
<text x="2294.00" y="237.00" font-family='"Liberation Sans", sans-serif' font-size="35" font-weight="normal" fill="#ffffff" text-anchor="start" textLength="358.00" lengthAdjust="spacing" >Templates</text>
<path d="M2850.00,253.00 L2857.00,261.00 L2864.00,253.00" stroke="#f0f0f0" fill="none" stroke-width="1.6" stroke-linecap="round" stroke-linejoin="round"/>
<rect x="47.40" y="300.30" width="2812.80" height="1369.80" fill="#ffffff" />
<line x1="47.40" y1="421.30" x2="2860.00" y2="421.30" stroke="#9a9a9a" stroke-width="1.2" />
<text x="75.50" y="330.00" font-family='"Liberation Sans", sans-serif' font-size="33" font-weight="bold" fill="#222222" text-anchor="start" textLength="271.50" lengthAdjust="spacingAndGlyphs" stroke="#222222" stroke-width="0.9">Scenario Analysis</text>
<text x="75.00" y="361.00" font-family='"Liberation Sans", sans-serif' font-size="25" font-weight="bold" fill="#000000" text-anchor="start" textLength="243.00" lengthAdjust="spacingAndGlyphs" stroke="#000" stroke-width="0.8">ABC Company Inc.</text>
<text x="74.00" y="387.50" font-family='"Liberation Sans", sans-serif' font-size="19.5" font-weight="bold" fill="#3377e0" text-anchor="start" textLength="209.70" lengthAdjust="spacingAndGlyphs" stroke="#3377e0" stroke-width="0.4">Go to Table of Contents</text>
<line x1="74.00" y1="390.70" x2="283.70" y2="390.70" stroke="#3377e0" stroke-width="2.2" />
<rect x="70.00" y="422.00" width="605.70" height="27.90" fill="#4b4fd1" />
<rect x="70.00" y="457.90" width="605.70" height="30.70" fill="#4cb2e6" />
<text x="193.40" y="443.40" font-family='"Liberation Sans", sans-serif' font-size="20.5" font-weight="bold" fill="#ffffff" text-anchor="start" textLength="360.20" lengthAdjust="spacingAndGlyphs" stroke="#fff" stroke-width="0.5">10-Years Revenue ($&#x27;000) - Base</text>
<text x="334.00" y="479.00" font-family='"Liberation Sans", sans-serif' font-size="19.5" font-weight="bold" fill="#ffffff" text-anchor="start" textLength="69.00" lengthAdjust="spacingAndGlyphs" stroke="#fff" stroke-width="0.5">30,783</text>
<rect x="854.30" y="422.00" width="606.30" height="27.90" fill="#4b4fd1" />
<rect x="854.30" y="457.90" width="606.30" height="30.70" fill="#4cb2e6" />
<text x="953.20" y="443.40" font-family='"Liberation Sans", sans-serif' font-size="20.5" font-weight="bold" fill="#ffffff" text-anchor="start" textLength="410.20" lengthAdjust="spacingAndGlyphs" stroke="#fff" stroke-width="0.5">10-Years Gross Margin ($&#x27;000) - Base</text>
<text x="1119.60" y="479.00" font-family='"Liberation Sans", sans-serif' font-size="19.5" font-weight="bold" fill="#ffffff" text-anchor="start" textLength="68.90" lengthAdjust="spacingAndGlyphs" stroke="#fff" stroke-width="0.5">28,078</text>
<rect x="1639.00" y="422.00" width="577.00" height="27.90" fill="#4b4fd1" />
<rect x="1639.00" y="457.90" width="577.00" height="30.70" fill="#4cb2e6" />
<text x="1753.00" y="443.40" font-family='"Liberation Sans", sans-serif' font-size="20.5" font-weight="bold" fill="#ffffff" text-anchor="start" textLength="349.00" lengthAdjust="spacingAndGlyphs" stroke="#fff" stroke-width="0.5">10-Years EBITDA ($&#x27;000) - Base</text>
<text x="1894.30" y="479.00" font-family='"Liberation Sans", sans-serif' font-size="19.5" font-weight="bold" fill="#ffffff" text-anchor="start" textLength="57.10" lengthAdjust="spacingAndGlyphs" stroke="#fff" stroke-width="0.5">6,372</text>
<rect x="11.00" y="278.00" width="2853.00" height="22.30" fill="#0a0a0a" />
<path d="M44,283 L44,297 L30,297 Z" stroke="none" fill="#6a6a6a" stroke-width="1" />
<rect x="47.00" y="278.00" width="23.60" height="22.30" fill="#6b6b6b" />
<line x1="47.50" y1="278.00" x2="47.50" y2="300.00" stroke="#b8b8b8" stroke-width="1" />
<line x1="70.10" y1="278.00" x2="70.10" y2="300.00" stroke="#b8b8b8" stroke-width="1" />
<line x1="47.00" y1="299.40" x2="70.60" y2="299.40" stroke="#1e7a44" stroke-width="1.8" />
<line x1="70.60" y1="278.00" x2="70.60" y2="300.00" stroke="#484848" stroke-width="1" />
<text x="58.80" y="296.00" font-family='"Liberation Sans", sans-serif' font-size="17" font-weight="normal" fill="#ededed" text-anchor="middle" >A</text>
<line x1="342.00" y1="278.00" x2="342.00" y2="300.00" stroke="#484848" stroke-width="1" />
<text x="206.30" y="296.00" font-family='"Liberation Sans", sans-serif' font-size="17" font-weight="normal" fill="#ededed" text-anchor="middle" >B</text>
<line x1="511.00" y1="278.00" x2="511.00" y2="300.00" stroke="#484848" stroke-width="1" />
<text x="426.50" y="296.00" font-family='"Liberation Sans", sans-serif' font-size="17" font-weight="normal" fill="#ededed" text-anchor="middle" >C</text>
<line x1="675.50" y1="278.00" x2="675.50" y2="300.00" stroke="#484848" stroke-width="1" />
<text x="593.25" y="296.00" font-family='"Liberation Sans", sans-serif' font-size="17" font-weight="normal" fill="#ededed" text-anchor="middle" >D</text>
<line x1="854.30" y1="278.00" x2="854.30" y2="300.00" stroke="#484848" stroke-width="1" />
<text x="764.90" y="296.00" font-family='"Liberation Sans", sans-serif' font-size="17" font-weight="normal" fill="#ededed" text-anchor="middle" >E</text>
<line x1="1113.60" y1="278.00" x2="1113.60" y2="300.00" stroke="#484848" stroke-width="1" />
<text x="983.95" y="296.00" font-family='"Liberation Sans", sans-serif' font-size="17" font-weight="normal" fill="#ededed" text-anchor="middle" >F</text>
<line x1="1157.50" y1="278.00" x2="1157.50" y2="300.00" stroke="#484848" stroke-width="1" />
<text x="1135.55" y="296.00" font-family='"Liberation Sans", sans-serif' font-size="17" font-weight="normal" fill="#ededed" text-anchor="middle" >G</text>
<line x1="1320.60" y1="278.00" x2="1320.60" y2="300.00" stroke="#484848" stroke-width="1" />
<text x="1239.05" y="296.00" font-family='"Liberation Sans", sans-serif' font-size="17" font-weight="normal" fill="#ededed" text-anchor="middle" >H</text>
<line x1="1460.60" y1="278.00" x2="1460.60" y2="300.00" stroke="#484848" stroke-width="1" />
<text x="1390.60" y="296.00" font-family='"Liberation Sans", sans-serif' font-size="17" font-weight="normal" fill="#ededed" text-anchor="middle" >I</text>
<line x1="1639.20" y1="278.00" x2="1639.20" y2="300.00" stroke="#484848" stroke-width="1" />
<text x="1549.90" y="296.00" font-family='"Liberation Sans", sans-serif' font-size="17" font-weight="normal" fill="#ededed" text-anchor="middle" >J</text>
<line x1="1783.30" y1="278.00" x2="1783.30" y2="300.00" stroke="#484848" stroke-width="1" />
<text x="1711.25" y="296.00" font-family='"Liberation Sans", sans-serif' font-size="17" font-weight="normal" fill="#ededed" text-anchor="middle" >K</text>
<line x1="1927.30" y1="278.00" x2="1927.30" y2="300.00" stroke="#484848" stroke-width="1" />
<text x="1855.30" y="296.00" font-family='"Liberation Sans", sans-serif' font-size="17" font-weight="normal" fill="#ededed" text-anchor="middle" >L</text>
<line x1="2071.30" y1="278.00" x2="2071.30" y2="300.00" stroke="#484848" stroke-width="1" />
<text x="1999.30" y="296.00" font-family='"Liberation Sans", sans-serif' font-size="17" font-weight="normal" fill="#ededed" text-anchor="middle" >M</text>
<line x1="2215.30" y1="278.00" x2="2215.30" y2="300.00" stroke="#484848" stroke-width="1" />
<text x="2143.30" y="296.00" font-family='"Liberation Sans", sans-serif' font-size="17" font-weight="normal" fill="#ededed" text-anchor="middle" >N</text>
<line x1="2328.20" y1="278.00" x2="2328.20" y2="300.00" stroke="#484848" stroke-width="1" />
<text x="2271.75" y="296.00" font-family='"Liberation Sans", sans-serif' font-size="17" font-weight="normal" fill="#ededed" text-anchor="middle" >O</text>
<line x1="2441.00" y1="278.00" x2="2441.00" y2="300.00" stroke="#484848" stroke-width="1" />
<text x="2384.60" y="296.00" font-family='"Liberation Sans", sans-serif' font-size="17" font-weight="normal" fill="#ededed" text-anchor="middle" >P</text>
<line x1="2554.20" y1="278.00" x2="2554.20" y2="300.00" stroke="#484848" stroke-width="1" />
<text x="2497.60" y="296.00" font-family='"Liberation Sans", sans-serif' font-size="17" font-weight="normal" fill="#ededed" text-anchor="middle" >Q</text>
<line x1="2668.30" y1="278.00" x2="2668.30" y2="300.00" stroke="#484848" stroke-width="1" />
<text x="2611.25" y="296.00" font-family='"Liberation Sans", sans-serif' font-size="17" font-weight="normal" fill="#ededed" text-anchor="middle" >R</text>
<line x1="2781.90" y1="278.00" x2="2781.90" y2="300.00" stroke="#484848" stroke-width="1" />
<text x="2725.10" y="296.00" font-family='"Liberation Sans", sans-serif' font-size="17" font-weight="normal" fill="#ededed" text-anchor="middle" >S</text>
<text x="2838.70" y="296.00" font-family='"Liberation Sans", sans-serif' font-size="17" font-weight="normal" fill="#ededed" text-anchor="middle" >T</text>
<rect x="11.00" y="300.00" width="36.40" height="1370.00" fill="#0a0a0a" />
<clipPath id="rh"><rect x="11" y="300" width="36.4" height="1370"/></clipPath><g clip-path="url(#rh)">
<rect x="11.00" y="300.30" width="36.40" height="34.20" fill="#6b6b6b" />
<line x1="11.00" y1="300.80" x2="47.40" y2="300.80" stroke="#b8b8b8" stroke-width="1" />
<line x1="11.00" y1="334.00" x2="47.40" y2="334.00" stroke="#b8b8b8" stroke-width="1" />
<clipPath id="r0"><rect x="11" y="300.30" width="36.4" height="34.20"/></clipPath>
<text x="29.50" y="330.20" font-family='"Liberation Sans", sans-serif' font-size="16.5" font-weight="normal" fill="#ededed" text-anchor="middle" clip-path="url(#r0)">1</text>
<line x1="11.00" y1="334.50" x2="47.40" y2="334.50" stroke="#3a3a3a" stroke-width="1" />
<clipPath id="r1"><rect x="11" y="334.50" width="36.4" height="31.70"/></clipPath>
<text x="29.50" y="361.90" font-family='"Liberation Sans", sans-serif' font-size="16.5" font-weight="normal" fill="#ededed" text-anchor="middle" clip-path="url(#r1)">2</text>
<line x1="11.00" y1="366.20" x2="47.40" y2="366.20" stroke="#3a3a3a" stroke-width="1" />
<clipPath id="r2"><rect x="11" y="366.20" width="36.4" height="32.00"/></clipPath>
<text x="29.50" y="393.90" font-family='"Liberation Sans", sans-serif' font-size="16.5" font-weight="normal" fill="#ededed" text-anchor="middle" clip-path="url(#r2)">3</text>
<line x1="11.00" y1="398.20" x2="47.40" y2="398.20" stroke="#3a3a3a" stroke-width="1" />
<clipPath id="r3"><rect x="11" y="398.20" width="36.4" height="22.90"/></clipPath>
<text x="29.50" y="416.80" font-family='"Liberation Sans", sans-serif' font-size="16.5" font-weight="normal" fill="#ededed" text-anchor="middle" clip-path="url(#r3)">4</text>
<line x1="11.00" y1="421.10" x2="47.40" y2="421.10" stroke="#3a3a3a" stroke-width="1" />
<clipPath id="r4"><rect x="11" y="421.10" width="36.4" height="28.20"/></clipPath>
<text x="29.50" y="445.00" font-family='"Liberation Sans", sans-serif' font-size="16.5" font-weight="normal" fill="#ededed" text-anchor="middle" clip-path="url(#r4)">5</text>
<line x1="11.00" y1="449.30" x2="47.40" y2="449.30" stroke="#3a3a3a" stroke-width="1" />
<clipPath id="r5"><rect x="11" y="449.30" width="36.4" height="7.70"/></clipPath>
<text x="29.50" y="452.70" font-family='"Liberation Sans", sans-serif' font-size="16.5" font-weight="normal" fill="#ededed" text-anchor="middle" clip-path="url(#r5)">6</text>
<line x1="11.00" y1="457.00" x2="47.40" y2="457.00" stroke="#3a3a3a" stroke-width="1" />
<clipPath id="r6"><rect x="11" y="457.00" width="36.4" height="31.00"/></clipPath>
<text x="29.50" y="483.70" font-family='"Liberation Sans", sans-serif' font-size="16.5" font-weight="normal" fill="#ededed" text-anchor="middle" clip-path="url(#r6)">7</text>
<line x1="11.00" y1="488.00" x2="47.40" y2="488.00" stroke="#3a3a3a" stroke-width="1" />
<clipPath id="r7"><rect x="11" y="488.00" width="36.4" height="14.70"/></clipPath>
<text x="29.50" y="498.40" font-family='"Liberation Sans", sans-serif' font-size="16.5" font-weight="normal" fill="#ededed" text-anchor="middle" clip-path="url(#r7)">8</text>
<line x1="11.00" y1="502.70" x2="47.40" y2="502.70" stroke="#3a3a3a" stroke-width="1" />
<clipPath id="r8"><rect x="11" y="502.70" width="36.4" height="32.70"/></clipPath>
<text x="29.50" y="531.10" font-family='"Liberation Sans", sans-serif' font-size="16.5" font-weight="normal" fill="#ededed" text-anchor="middle" clip-path="url(#r8)">9</text>
<line x1="11.00" y1="535.40" x2="47.40" y2="535.40" stroke="#3a3a3a" stroke-width="1" />
<clipPath id="r9"><rect x="11" y="535.40" width="36.4" height="11.30"/></clipPath>
<text x="29.50" y="542.40" font-family='"Liberation Sans", sans-serif' font-size="16.5" font-weight="normal" fill="#ededed" text-anchor="middle" clip-path="url(#r9)">10</text>
<line x1="11.00" y1="546.70" x2="47.40" y2="546.70" stroke="#3a3a3a" stroke-width="1" />
<clipPath id="r10"><rect x="11" y="546.70" width="36.4" height="29.70"/></clipPath>
<text x="29.50" y="572.10" font-family='"Liberation Sans", sans-serif' font-size="16.5" font-weight="normal" fill="#ededed" text-anchor="middle" clip-path="url(#r10)">11</text>
<line x1="11.00" y1="576.40" x2="47.40" y2="576.40" stroke="#3a3a3a" stroke-width="1" />
<clipPath id="r11"><rect x="11" y="576.40" width="36.4" height="10.60"/></clipPath>
<text x="29.50" y="582.70" font-family='"Liberation Sans", sans-serif' font-size="16.5" font-weight="normal" fill="#ededed" text-anchor="middle" clip-path="url(#r11)">12</text>
<line x1="11.00" y1="587.00" x2="47.40" y2="587.00" stroke="#3a3a3a" stroke-width="1" />
<clipPath id="r12"><rect x="11" y="587.00" width="36.4" height="23.80"/></clipPath>
<text x="29.50" y="606.50" font-family='"Liberation Sans", sans-serif' font-size="16.5" font-weight="normal" fill="#ededed" text-anchor="middle" clip-path="url(#r12)">13</text>
<line x1="11.00" y1="610.80" x2="47.40" y2="610.80" stroke="#3a3a3a" stroke-width="1" />
<clipPath id="r13"><rect x="11" y="610.80" width="36.4" height="24.90"/></clipPath>
<text x="29.50" y="631.40" font-family='"Liberation Sans", sans-serif' font-size="16.5" font-weight="normal" fill="#ededed" text-anchor="middle" clip-path="url(#r13)">14</text>
<line x1="11.00" y1="635.70" x2="47.40" y2="635.70" stroke="#3a3a3a" stroke-width="1" />
<clipPath id="r14"><rect x="11" y="635.70" width="36.4" height="24.10"/></clipPath>
<text x="29.50" y="655.50" font-family='"Liberation Sans", sans-serif' font-size="16.5" font-weight="normal" fill="#ededed" text-anchor="middle" clip-path="url(#r14)">15</text>
<line x1="11.00" y1="659.80" x2="47.40" y2="659.80" stroke="#3a3a3a" stroke-width="1" />
<clipPath id="r15"><rect x="11" y="659.80" width="36.4" height="23.50"/></clipPath>
<text x="29.50" y="679.00" font-family='"Liberation Sans", sans-serif' font-size="16.5" font-weight="normal" fill="#ededed" text-anchor="middle" clip-path="url(#r15)">16</text>
<line x1="11.00" y1="683.30" x2="47.40" y2="683.30" stroke="#3a3a3a" stroke-width="1" />
<clipPath id="r16"><rect x="11" y="683.30" width="36.4" height="24.10"/></clipPath>
<text x="29.50" y="703.10" font-family='"Liberation Sans", sans-serif' font-size="16.5" font-weight="normal" fill="#ededed" text-anchor="middle" clip-path="url(#r16)">17</text>
<line x1="11.00" y1="707.40" x2="47.40" y2="707.40" stroke="#3a3a3a" stroke-width="1" />
<clipPath id="r17"><rect x="11" y="707.40" width="36.4" height="11.10"/></clipPath>
<text x="29.50" y="714.20" font-family='"Liberation Sans", sans-serif' font-size="16.5" font-weight="normal" fill="#ededed" text-anchor="middle" clip-path="url(#r17)">18</text>
<line x1="11.00" y1="718.50" x2="47.40" y2="718.50" stroke="#3a3a3a" stroke-width="1" />
<clipPath id="r18"><rect x="11" y="718.50" width="36.4" height="22.10"/></clipPath>
<text x="29.50" y="736.30" font-family='"Liberation Sans", sans-serif' font-size="16.5" font-weight="normal" fill="#ededed" text-anchor="middle" clip-path="url(#r18)">19</text>
<line x1="11.00" y1="740.60" x2="47.40" y2="740.60" stroke="#3a3a3a" stroke-width="1" />
<clipPath id="r19"><rect x="11" y="740.60" width="36.4" height="11.00"/></clipPath>
<text x="29.50" y="747.30" font-family='"Liberation Sans", sans-serif' font-size="16.5" font-weight="normal" fill="#ededed" text-anchor="middle" clip-path="url(#r19)">20</text>
<line x1="11.00" y1="751.60" x2="47.40" y2="751.60" stroke="#3a3a3a" stroke-width="1" />
<clipPath id="r20"><rect x="11" y="751.60" width="36.4" height="21.50"/></clipPath>
<text x="29.50" y="768.80" font-family='"Liberation Sans", sans-serif' font-size="16.5" font-weight="normal" fill="#ededed" text-anchor="middle" clip-path="url(#r20)">21</text>
<line x1="11.00" y1="773.10" x2="47.40" y2="773.10" stroke="#3a3a3a" stroke-width="1" />
<clipPath id="r21"><rect x="11" y="773.10" width="36.4" height="11.20"/></clipPath>
<text x="29.50" y="780.00" font-family='"Liberation Sans", sans-serif' font-size="16.5" font-weight="normal" fill="#ededed" text-anchor="middle" clip-path="url(#r21)">22</text>
<line x1="11.00" y1="784.30" x2="47.40" y2="784.30" stroke="#3a3a3a" stroke-width="1" />
<clipPath id="r22"><rect x="11" y="784.30" width="36.4" height="22.10"/></clipPath>
<text x="29.50" y="802.10" font-family='"Liberation Sans", sans-serif' font-size="16.5" font-weight="normal" fill="#ededed" text-anchor="middle" clip-path="url(#r22)">23</text>
<line x1="11.00" y1="806.40" x2="47.40" y2="806.40" stroke="#3a3a3a" stroke-width="1" />
<clipPath id="r23"><rect x="11" y="806.40" width="36.4" height="22.50"/></clipPath>
<text x="29.50" y="824.60" font-family='"Liberation Sans", sans-serif' font-size="16.5" font-weight="normal" fill="#ededed" text-anchor="middle" clip-path="url(#r23)">24</text>
<line x1="11.00" y1="828.90" x2="47.40" y2="828.90" stroke="#3a3a3a" stroke-width="1" />
<clipPath id="r24"><rect x="11" y="828.90" width="36.4" height="22.10"/></clipPath>
<text x="29.50" y="846.70" font-family='"Liberation Sans", sans-serif' font-size="16.5" font-weight="normal" fill="#ededed" text-anchor="middle" clip-path="url(#r24)">25</text>
<line x1="11.00" y1="851.00" x2="47.40" y2="851.00" stroke="#3a3a3a" stroke-width="1" />
<clipPath id="r25"><rect x="11" y="851.00" width="36.4" height="22.10"/></clipPath>
<text x="29.50" y="868.80" font-family='"Liberation Sans", sans-serif' font-size="16.5" font-weight="normal" fill="#ededed" text-anchor="middle" clip-path="url(#r25)">26</text>
<line x1="11.00" y1="873.10" x2="47.40" y2="873.10" stroke="#3a3a3a" stroke-width="1" />
<clipPath id="r26"><rect x="11" y="873.10" width="36.4" height="21.90"/></clipPath>
<text x="29.50" y="890.70" font-family='"Liberation Sans", sans-serif' font-size="16.5" font-weight="normal" fill="#ededed" text-anchor="middle" clip-path="url(#r26)">27</text>
<line x1="11.00" y1="895.00" x2="47.40" y2="895.00" stroke="#3a3a3a" stroke-width="1" />
<clipPath id="r27"><rect x="11" y="895.00" width="36.4" height="21.70"/></clipPath>
<text x="29.50" y="912.40" font-family='"Liberation Sans", sans-serif' font-size="16.5" font-weight="normal" fill="#ededed" text-anchor="middle" clip-path="url(#r27)">28</text>
<line x1="11.00" y1="916.70" x2="47.40" y2="916.70" stroke="#3a3a3a" stroke-width="1" />
<clipPath id="r28"><rect x="11" y="916.70" width="36.4" height="21.90"/></clipPath>
<text x="29.50" y="934.30" font-family='"Liberation Sans", sans-serif' font-size="16.5" font-weight="normal" fill="#ededed" text-anchor="middle" clip-path="url(#r28)">29</text>
<line x1="11.00" y1="938.60" x2="47.40" y2="938.60" stroke="#3a3a3a" stroke-width="1" />
<clipPath id="r29"><rect x="11" y="938.60" width="36.4" height="22.10"/></clipPath>
<text x="29.50" y="956.40" font-family='"Liberation Sans", sans-serif' font-size="16.5" font-weight="normal" fill="#ededed" text-anchor="middle" clip-path="url(#r29)">30</text>
<line x1="11.00" y1="960.70" x2="47.40" y2="960.70" stroke="#3a3a3a" stroke-width="1" />
<clipPath id="r30"><rect x="11" y="960.70" width="36.4" height="22.10"/></clipPath>
<text x="29.50" y="978.50" font-family='"Liberation Sans", sans-serif' font-size="16.5" font-weight="normal" fill="#ededed" text-anchor="middle" clip-path="url(#r30)">31</text>
<line x1="11.00" y1="982.80" x2="47.40" y2="982.80" stroke="#3a3a3a" stroke-width="1" />
<clipPath id="r31"><rect x="11" y="982.80" width="36.4" height="22.10"/></clipPath>
<text x="29.50" y="1000.60" font-family='"Liberation Sans", sans-serif' font-size="16.5" font-weight="normal" fill="#ededed" text-anchor="middle" clip-path="url(#r31)">32</text>
<line x1="11.00" y1="1004.90" x2="47.40" y2="1004.90" stroke="#3a3a3a" stroke-width="1" />
<clipPath id="r32"><rect x="11" y="1004.90" width="36.4" height="22.10"/></clipPath>
<text x="29.50" y="1022.70" font-family='"Liberation Sans", sans-serif' font-size="16.5" font-weight="normal" fill="#ededed" text-anchor="middle" clip-path="url(#r32)">33</text>
<line x1="11.00" y1="1027.00" x2="47.40" y2="1027.00" stroke="#3a3a3a" stroke-width="1" />
<clipPath id="r33"><rect x="11" y="1027.00" width="36.4" height="20.70"/></clipPath>
<text x="29.50" y="1043.40" font-family='"Liberation Sans", sans-serif' font-size="16.5" font-weight="normal" fill="#ededed" text-anchor="middle" clip-path="url(#r33)">34</text>
<line x1="11.00" y1="1047.70" x2="47.40" y2="1047.70" stroke="#3a3a3a" stroke-width="1" />
<clipPath id="r34"><rect x="11" y="1047.70" width="36.4" height="33.10"/></clipPath>
<text x="29.50" y="1076.50" font-family='"Liberation Sans", sans-serif' font-size="16.5" font-weight="normal" fill="#ededed" text-anchor="middle" clip-path="url(#r34)">35</text>
<line x1="11.00" y1="1080.80" x2="47.40" y2="1080.80" stroke="#3a3a3a" stroke-width="1" />
<clipPath id="r35"><rect x="11" y="1080.80" width="36.4" height="22.98"/></clipPath>
<text x="29.50" y="1099.48" font-family='"Liberation Sans", sans-serif' font-size="16.5" font-weight="normal" fill="#ededed" text-anchor="middle" clip-path="url(#r35)">36</text>
<line x1="11.00" y1="1103.78" x2="47.40" y2="1103.78" stroke="#3a3a3a" stroke-width="1" />
<clipPath id="r36"><rect x="11" y="1103.78" width="36.4" height="22.98"/></clipPath>
<text x="29.50" y="1122.46" font-family='"Liberation Sans", sans-serif' font-size="16.5" font-weight="normal" fill="#ededed" text-anchor="middle" clip-path="url(#r36)">37</text>
<line x1="11.00" y1="1126.76" x2="47.40" y2="1126.76" stroke="#3a3a3a" stroke-width="1" />
<clipPath id="r37"><rect x="11" y="1126.76" width="36.4" height="22.98"/></clipPath>
<text x="29.50" y="1145.44" font-family='"Liberation Sans", sans-serif' font-size="16.5" font-weight="normal" fill="#ededed" text-anchor="middle" clip-path="url(#r37)">38</text>
<line x1="11.00" y1="1149.74" x2="47.40" y2="1149.74" stroke="#3a3a3a" stroke-width="1" />
<clipPath id="r38"><rect x="11" y="1149.74" width="36.4" height="22.98"/></clipPath>
<text x="29.50" y="1168.42" font-family='"Liberation Sans", sans-serif' font-size="16.5" font-weight="normal" fill="#ededed" text-anchor="middle" clip-path="url(#r38)">39</text>
<line x1="11.00" y1="1172.72" x2="47.40" y2="1172.72" stroke="#3a3a3a" stroke-width="1" />
<clipPath id="r39"><rect x="11" y="1172.72" width="36.4" height="22.98"/></clipPath>
<text x="29.50" y="1191.40" font-family='"Liberation Sans", sans-serif' font-size="16.5" font-weight="normal" fill="#ededed" text-anchor="middle" clip-path="url(#r39)">40</text>
<line x1="11.00" y1="1195.70" x2="47.40" y2="1195.70" stroke="#3a3a3a" stroke-width="1" />
<clipPath id="r40"><rect x="11" y="1195.70" width="36.4" height="22.98"/></clipPath>
<text x="29.50" y="1214.38" font-family='"Liberation Sans", sans-serif' font-size="16.5" font-weight="normal" fill="#ededed" text-anchor="middle" clip-path="url(#r40)">41</text>
<line x1="11.00" y1="1218.68" x2="47.40" y2="1218.68" stroke="#3a3a3a" stroke-width="1" />
<clipPath id="r41"><rect x="11" y="1218.68" width="36.4" height="22.98"/></clipPath>
<text x="29.50" y="1237.36" font-family='"Liberation Sans", sans-serif' font-size="16.5" font-weight="normal" fill="#ededed" text-anchor="middle" clip-path="url(#r41)">42</text>
<line x1="11.00" y1="1241.66" x2="47.40" y2="1241.66" stroke="#3a3a3a" stroke-width="1" />
<clipPath id="r42"><rect x="11" y="1241.66" width="36.4" height="22.98"/></clipPath>
<text x="29.50" y="1260.34" font-family='"Liberation Sans", sans-serif' font-size="16.5" font-weight="normal" fill="#ededed" text-anchor="middle" clip-path="url(#r42)">43</text>
<line x1="11.00" y1="1264.64" x2="47.40" y2="1264.64" stroke="#3a3a3a" stroke-width="1" />
<clipPath id="r43"><rect x="11" y="1264.64" width="36.4" height="22.98"/></clipPath>
<text x="29.50" y="1283.32" font-family='"Liberation Sans", sans-serif' font-size="16.5" font-weight="normal" fill="#ededed" text-anchor="middle" clip-path="url(#r43)">44</text>
<line x1="11.00" y1="1287.62" x2="47.40" y2="1287.62" stroke="#3a3a3a" stroke-width="1" />
<clipPath id="r44"><rect x="11" y="1287.62" width="36.4" height="22.98"/></clipPath>
<text x="29.50" y="1306.30" font-family='"Liberation Sans", sans-serif' font-size="16.5" font-weight="normal" fill="#ededed" text-anchor="middle" clip-path="url(#r44)">45</text>
<line x1="11.00" y1="1310.60" x2="47.40" y2="1310.60" stroke="#3a3a3a" stroke-width="1" />
<clipPath id="r45"><rect x="11" y="1310.60" width="36.4" height="22.98"/></clipPath>
<text x="29.50" y="1329.28" font-family='"Liberation Sans", sans-serif' font-size="16.5" font-weight="normal" fill="#ededed" text-anchor="middle" clip-path="url(#r45)">46</text>
<line x1="11.00" y1="1333.58" x2="47.40" y2="1333.58" stroke="#3a3a3a" stroke-width="1" />
<clipPath id="r46"><rect x="11" y="1333.58" width="36.4" height="22.98"/></clipPath>
<text x="29.50" y="1352.26" font-family='"Liberation Sans", sans-serif' font-size="16.5" font-weight="normal" fill="#ededed" text-anchor="middle" clip-path="url(#r46)">47</text>
<line x1="11.00" y1="1356.56" x2="47.40" y2="1356.56" stroke="#3a3a3a" stroke-width="1" />
<clipPath id="r47"><rect x="11" y="1356.56" width="36.4" height="22.98"/></clipPath>
<text x="29.50" y="1375.24" font-family='"Liberation Sans", sans-serif' font-size="16.5" font-weight="normal" fill="#ededed" text-anchor="middle" clip-path="url(#r47)">48</text>
<line x1="11.00" y1="1379.54" x2="47.40" y2="1379.54" stroke="#3a3a3a" stroke-width="1" />
<clipPath id="r48"><rect x="11" y="1379.54" width="36.4" height="22.98"/></clipPath>
<text x="29.50" y="1398.22" font-family='"Liberation Sans", sans-serif' font-size="16.5" font-weight="normal" fill="#ededed" text-anchor="middle" clip-path="url(#r48)">49</text>
<line x1="11.00" y1="1402.52" x2="47.40" y2="1402.52" stroke="#3a3a3a" stroke-width="1" />
<clipPath id="r49"><rect x="11" y="1402.52" width="36.4" height="22.98"/></clipPath>
<text x="29.50" y="1421.20" font-family='"Liberation Sans", sans-serif' font-size="16.5" font-weight="normal" fill="#ededed" text-anchor="middle" clip-path="url(#r49)">50</text>
<line x1="11.00" y1="1425.50" x2="47.40" y2="1425.50" stroke="#3a3a3a" stroke-width="1" />
<clipPath id="r50"><rect x="11" y="1425.50" width="36.4" height="22.98"/></clipPath>
<text x="29.50" y="1444.18" font-family='"Liberation Sans", sans-serif' font-size="16.5" font-weight="normal" fill="#ededed" text-anchor="middle" clip-path="url(#r50)">51</text>
<line x1="11.00" y1="1448.48" x2="47.40" y2="1448.48" stroke="#3a3a3a" stroke-width="1" />
<clipPath id="r51"><rect x="11" y="1448.48" width="36.4" height="22.98"/></clipPath>
<text x="29.50" y="1467.16" font-family='"Liberation Sans", sans-serif' font-size="16.5" font-weight="normal" fill="#ededed" text-anchor="middle" clip-path="url(#r51)">52</text>
<line x1="11.00" y1="1471.46" x2="47.40" y2="1471.46" stroke="#3a3a3a" stroke-width="1" />
<clipPath id="r52"><rect x="11" y="1471.46" width="36.4" height="22.98"/></clipPath>
<text x="29.50" y="1490.14" font-family='"Liberation Sans", sans-serif' font-size="16.5" font-weight="normal" fill="#ededed" text-anchor="middle" clip-path="url(#r52)">53</text>
<line x1="11.00" y1="1494.44" x2="47.40" y2="1494.44" stroke="#3a3a3a" stroke-width="1" />
<clipPath id="r53"><rect x="11" y="1494.44" width="36.4" height="22.98"/></clipPath>
<text x="29.50" y="1513.12" font-family='"Liberation Sans", sans-serif' font-size="16.5" font-weight="normal" fill="#ededed" text-anchor="middle" clip-path="url(#r53)">54</text>
<line x1="11.00" y1="1517.42" x2="47.40" y2="1517.42" stroke="#3a3a3a" stroke-width="1" />
<clipPath id="r54"><rect x="11" y="1517.42" width="36.4" height="22.98"/></clipPath>
<text x="29.50" y="1536.10" font-family='"Liberation Sans", sans-serif' font-size="16.5" font-weight="normal" fill="#ededed" text-anchor="middle" clip-path="url(#r54)">55</text>
<line x1="11.00" y1="1540.40" x2="47.40" y2="1540.40" stroke="#3a3a3a" stroke-width="1" />
<clipPath id="r55"><rect x="11" y="1540.40" width="36.4" height="22.98"/></clipPath>
<text x="29.50" y="1559.08" font-family='"Liberation Sans", sans-serif' font-size="16.5" font-weight="normal" fill="#ededed" text-anchor="middle" clip-path="url(#r55)">56</text>
<line x1="11.00" y1="1563.38" x2="47.40" y2="1563.38" stroke="#3a3a3a" stroke-width="1" />
<clipPath id="r56"><rect x="11" y="1563.38" width="36.4" height="22.98"/></clipPath>
<text x="29.50" y="1582.06" font-family='"Liberation Sans", sans-serif' font-size="16.5" font-weight="normal" fill="#ededed" text-anchor="middle" clip-path="url(#r56)">57</text>
<line x1="11.00" y1="1586.36" x2="47.40" y2="1586.36" stroke="#3a3a3a" stroke-width="1" />
<clipPath id="r57"><rect x="11" y="1586.36" width="36.4" height="22.98"/></clipPath>
<text x="29.50" y="1605.04" font-family='"Liberation Sans", sans-serif' font-size="16.5" font-weight="normal" fill="#ededed" text-anchor="middle" clip-path="url(#r57)">58</text>
<line x1="11.00" y1="1609.34" x2="47.40" y2="1609.34" stroke="#3a3a3a" stroke-width="1" />
<clipPath id="r58"><rect x="11" y="1609.34" width="36.4" height="22.98"/></clipPath>
<text x="29.50" y="1628.02" font-family='"Liberation Sans", sans-serif' font-size="16.5" font-weight="normal" fill="#ededed" text-anchor="middle" clip-path="url(#r58)">59</text>
<line x1="11.00" y1="1632.32" x2="47.40" y2="1632.32" stroke="#3a3a3a" stroke-width="1" />
<clipPath id="r59"><rect x="11" y="1632.32" width="36.4" height="22.98"/></clipPath>
<text x="29.50" y="1651.00" font-family='"Liberation Sans", sans-serif' font-size="16.5" font-weight="normal" fill="#ededed" text-anchor="middle" clip-path="url(#r59)">60</text>
<line x1="11.00" y1="1655.30" x2="47.40" y2="1655.30" stroke="#3a3a3a" stroke-width="1" />
<clipPath id="r60"><rect x="11" y="1655.30" width="36.4" height="22.98"/></clipPath>
<text x="29.50" y="1673.98" font-family='"Liberation Sans", sans-serif' font-size="16.5" font-weight="normal" fill="#ededed" text-anchor="middle" clip-path="url(#r60)">61</text>
<line x1="11.00" y1="1678.28" x2="47.40" y2="1678.28" stroke="#3a3a3a" stroke-width="1" />
</g>
<line x1="47.10" y1="300.00" x2="47.10" y2="335.00" stroke="#1e7a44" stroke-width="1.8" />
<rect x="69.50" y="503.20" width="1044.30" height="33.40" fill="#4b4fd1" />
<text x="192.50" y="529.00" font-family='"Liberation Sans", sans-serif' font-size="24.5" font-weight="bold" fill="#ffffff" text-anchor="start" textLength="798.90" lengthAdjust="spacingAndGlyphs" stroke="#fff" stroke-width="0.6">Gross Margin Scenarios ($&#x27;000) - 10 years to December 2035</text>
<line x1="182.00" y1="571.20" x2="226.70" y2="571.20" stroke="#ea7a6d" stroke-width="3.2" />
<path d="M204.35,566.34 L208.85,574.44 L199.85,574.44 Z" stroke="none" fill="#ea7a6d" stroke-width="1" />
<text x="230.50" y="577.50" font-family='"Liberation Sans", sans-serif' font-size="17.5" font-weight="bold" fill="#000000" text-anchor="start" textLength="157.50" lengthAdjust="spacingAndGlyphs" stroke="#000" stroke-width="0.35">Low Gross Margin</text>
<line x1="467.80" y1="571.20" x2="510.80" y2="571.20" stroke="#4eb1e6" stroke-width="3.2" />
<path d="M489.30,567.15 L493.35,571.20 L489.30,575.25 L485.25,571.20 Z" stroke="none" fill="#4eb1e6" stroke-width="1" />
<text x="516.00" y="577.50" font-family='"Liberation Sans", sans-serif' font-size="17.5" font-weight="bold" fill="#000000" text-anchor="start" textLength="162.20" lengthAdjust="spacingAndGlyphs" stroke="#000" stroke-width="0.35">Base Gross Margin</text>
<line x1="759.00" y1="571.20" x2="803.00" y2="571.20" stroke="#2db4a2" stroke-width="3.2" />
<rect x="776.50" y="566.70" width="9.00" height="9.00" fill="#2db4a2" />
<text x="807.30" y="577.50" font-family='"Liberation Sans", sans-serif' font-size="17.5" font-weight="bold" fill="#000000" text-anchor="start" textLength="161.30" lengthAdjust="spacingAndGlyphs" stroke="#000" stroke-width="0.35">High Gross Margin</text>
<line x1="158.00" y1="946.50" x2="1070.00" y2="946.50" stroke="#4a9fd6" stroke-width="1" />
<line x1="158.00" y1="909.50" x2="1070.00" y2="909.50" stroke="#4a9fd6" stroke-width="1" />
<line x1="158.00" y1="872.50" x2="1070.00" y2="872.50" stroke="#4a9fd6" stroke-width="1" />
<line x1="158.00" y1="834.50" x2="1070.00" y2="834.50" stroke="#4a9fd6" stroke-width="1" />
<line x1="158.00" y1="797.50" x2="1070.00" y2="797.50" stroke="#4a9fd6" stroke-width="1" />
<line x1="158.00" y1="760.50" x2="1070.00" y2="760.50" stroke="#4a9fd6" stroke-width="1" />
<line x1="158.00" y1="723.50" x2="1070.00" y2="723.50" stroke="#4a9fd6" stroke-width="1" />
<line x1="158.00" y1="686.50" x2="1070.00" y2="686.50" stroke="#4a9fd6" stroke-width="1" />
<line x1="158.00" y1="648.50" x2="1070.00" y2="648.50" stroke="#4a9fd6" stroke-width="1" />
<line x1="249.50" y1="611.75" x2="249.50" y2="983.60" stroke="#4a9fd6" stroke-width="1" />
<line x1="340.50" y1="611.75" x2="340.50" y2="983.60" stroke="#4a9fd6" stroke-width="1" />
<line x1="431.50" y1="611.75" x2="431.50" y2="983.60" stroke="#4a9fd6" stroke-width="1" />
<line x1="522.50" y1="611.75" x2="522.50" y2="983.60" stroke="#4a9fd6" stroke-width="1" />
<line x1="614.50" y1="611.75" x2="614.50" y2="983.60" stroke="#4a9fd6" stroke-width="1" />
<line x1="705.50" y1="611.75" x2="705.50" y2="983.60" stroke="#4a9fd6" stroke-width="1" />
<line x1="796.50" y1="611.75" x2="796.50" y2="983.60" stroke="#4a9fd6" stroke-width="1" />
<line x1="887.50" y1="611.75" x2="887.50" y2="983.60" stroke="#4a9fd6" stroke-width="1" />
<line x1="978.50" y1="611.75" x2="978.50" y2="983.60" stroke="#4a9fd6" stroke-width="1" />
<rect x="158.00" y="611.75" width="912.00" height="371.85" fill="none" stroke="#52a8d8" stroke-width="2"/>
<line x1="158.50" y1="983.60" x2="158.50" y2="989.10" stroke="#4a9fd6" stroke-width="1" />
<line x1="249.50" y1="983.60" x2="249.50" y2="989.10" stroke="#4a9fd6" stroke-width="1" />
<line x1="340.50" y1="983.60" x2="340.50" y2="989.10" stroke="#4a9fd6" stroke-width="1" />
<line x1="431.50" y1="983.60" x2="431.50" y2="989.10" stroke="#4a9fd6" stroke-width="1" />
<line x1="522.50" y1="983.60" x2="522.50" y2="989.10" stroke="#4a9fd6" stroke-width="1" />
<line x1="614.50" y1="983.60" x2="614.50" y2="989.10" stroke="#4a9fd6" stroke-width="1" />
<line x1="705.50" y1="983.60" x2="705.50" y2="989.10" stroke="#4a9fd6" stroke-width="1" />
<line x1="796.50" y1="983.60" x2="796.50" y2="989.10" stroke="#4a9fd6" stroke-width="1" />
<line x1="887.50" y1="983.60" x2="887.50" y2="989.10" stroke="#4a9fd6" stroke-width="1" />
<line x1="978.50" y1="983.60" x2="978.50" y2="989.10" stroke="#4a9fd6" stroke-width="1" />
<line x1="1070.50" y1="983.60" x2="1070.50" y2="989.10" stroke="#4a9fd6" stroke-width="1" />
<text x="130.00" y="989.90" font-family='"Liberation Sans", sans-serif' font-size="17.5" font-weight="bold" fill="#000" text-anchor="start" textLength="6.00" lengthAdjust="spacingAndGlyphs" >-</text>
<text x="87.00" y="952.71" font-family='"Liberation Sans", sans-serif' font-size="17.5" font-weight="bold" fill="#000" text-anchor="start" textLength="49.00" lengthAdjust="spacingAndGlyphs" stroke="#000" stroke-width="0.35">1,000</text>
<text x="87.00" y="915.53" font-family='"Liberation Sans", sans-serif' font-size="17.5" font-weight="bold" fill="#000" text-anchor="start" textLength="49.00" lengthAdjust="spacingAndGlyphs" stroke="#000" stroke-width="0.35">2,000</text>
<text x="87.00" y="878.34" font-family='"Liberation Sans", sans-serif' font-size="17.5" font-weight="bold" fill="#000" text-anchor="start" textLength="49.00" lengthAdjust="spacingAndGlyphs" stroke="#000" stroke-width="0.35">3,000</text>
<text x="87.00" y="841.16" font-family='"Liberation Sans", sans-serif' font-size="17.5" font-weight="bold" fill="#000" text-anchor="start" textLength="49.00" lengthAdjust="spacingAndGlyphs" stroke="#000" stroke-width="0.35">4,000</text>
<text x="87.00" y="803.97" font-family='"Liberation Sans", sans-serif' font-size="17.5" font-weight="bold" fill="#000" text-anchor="start" textLength="49.00" lengthAdjust="spacingAndGlyphs" stroke="#000" stroke-width="0.35">5,000</text>
<text x="87.00" y="766.79" font-family='"Liberation Sans", sans-serif' font-size="17.5" font-weight="bold" fill="#000" text-anchor="start" textLength="49.00" lengthAdjust="spacingAndGlyphs" stroke="#000" stroke-width="0.35">6,000</text>
<text x="87.00" y="729.61" font-family='"Liberation Sans", sans-serif' font-size="17.5" font-weight="bold" fill="#000" text-anchor="start" textLength="49.00" lengthAdjust="spacingAndGlyphs" stroke="#000" stroke-width="0.35">7,000</text>
<text x="87.00" y="692.42" font-family='"Liberation Sans", sans-serif' font-size="17.5" font-weight="bold" fill="#000" text-anchor="start" textLength="49.00" lengthAdjust="spacingAndGlyphs" stroke="#000" stroke-width="0.35">8,000</text>
<text x="87.00" y="655.23" font-family='"Liberation Sans", sans-serif' font-size="17.5" font-weight="bold" fill="#000" text-anchor="start" textLength="49.00" lengthAdjust="spacingAndGlyphs" stroke="#000" stroke-width="0.35">9,000</text>
<text x="76.00" y="618.05" font-family='"Liberation Sans", sans-serif' font-size="17.5" font-weight="bold" fill="#000" text-anchor="start" textLength="60.00" lengthAdjust="spacingAndGlyphs" stroke="#000" stroke-width="0.35">10,000</text>
<text x="181.90" y="1033.40" font-family='"Liberation Sans", sans-serif' font-size="17" font-weight="bold" fill="#000" text-anchor="start" textLength="43.40" lengthAdjust="spacingAndGlyphs" stroke="#000" stroke-width="0.35">2026</text>
<text x="273.10" y="1033.40" font-family='"Liberation Sans", sans-serif' font-size="17" font-weight="bold" fill="#000" text-anchor="start" textLength="43.40" lengthAdjust="spacingAndGlyphs" stroke="#000" stroke-width="0.35">2027</text>
<text x="364.30" y="1033.40" font-family='"Liberation Sans", sans-serif' font-size="17" font-weight="bold" fill="#000" text-anchor="start" textLength="43.40" lengthAdjust="spacingAndGlyphs" stroke="#000" stroke-width="0.35">2028</text>
<text x="455.50" y="1033.40" font-family='"Liberation Sans", sans-serif' font-size="17" font-weight="bold" fill="#000" text-anchor="start" textLength="43.40" lengthAdjust="spacingAndGlyphs" stroke="#000" stroke-width="0.35">2029</text>
<text x="546.70" y="1033.40" font-family='"Liberation Sans", sans-serif' font-size="17" font-weight="bold" fill="#000" text-anchor="start" textLength="43.40" lengthAdjust="spacingAndGlyphs" stroke="#000" stroke-width="0.35">2030</text>
<text x="637.90" y="1033.40" font-family='"Liberation Sans", sans-serif' font-size="17" font-weight="bold" fill="#000" text-anchor="start" textLength="43.40" lengthAdjust="spacingAndGlyphs" stroke="#000" stroke-width="0.35">2031</text>
<text x="729.10" y="1033.40" font-family='"Liberation Sans", sans-serif' font-size="17" font-weight="bold" fill="#000" text-anchor="start" textLength="43.40" lengthAdjust="spacingAndGlyphs" stroke="#000" stroke-width="0.35">2032</text>
<text x="820.30" y="1033.40" font-family='"Liberation Sans", sans-serif' font-size="17" font-weight="bold" fill="#000" text-anchor="start" textLength="43.40" lengthAdjust="spacingAndGlyphs" stroke="#000" stroke-width="0.35">2033</text>
<text x="911.50" y="1033.40" font-family='"Liberation Sans", sans-serif' font-size="17" font-weight="bold" fill="#000" text-anchor="start" textLength="43.40" lengthAdjust="spacingAndGlyphs" stroke="#000" stroke-width="0.35">2034</text>
<text x="1002.70" y="1033.40" font-family='"Liberation Sans", sans-serif' font-size="17" font-weight="bold" fill="#000" text-anchor="start" textLength="43.40" lengthAdjust="spacingAndGlyphs" stroke="#000" stroke-width="0.35">2035</text>
<polyline points="203.60,972.85 294.80,963.41 386.00,954.37 477.20,943.63 568.40,929.01 659.60,905.36 750.80,875.28 842.00,841.74 933.20,796.60 1024.40,724.38" fill="none" stroke="#ea7a6d" stroke-width="3.2" stroke-linejoin="round" stroke-linecap="round"/>
<path d="M203.60,965.83 L210.10,977.53 L197.10,977.53 Z" stroke="none" fill="#ea7a6d" stroke-width="1" />
<path d="M294.80,956.39 L301.30,968.09 L288.30,968.09 Z" stroke="none" fill="#ea7a6d" stroke-width="1" />
<path d="M386.00,947.35 L392.50,959.05 L379.50,959.05 Z" stroke="none" fill="#ea7a6d" stroke-width="1" />
<path d="M477.20,936.61 L483.70,948.31 L470.70,948.31 Z" stroke="none" fill="#ea7a6d" stroke-width="1" />
<path d="M568.40,921.99 L574.90,933.69 L561.90,933.69 Z" stroke="none" fill="#ea7a6d" stroke-width="1" />
<path d="M659.60,898.34 L666.10,910.04 L653.10,910.04 Z" stroke="none" fill="#ea7a6d" stroke-width="1" />
<path d="M750.80,868.26 L757.30,879.96 L744.30,879.96 Z" stroke="none" fill="#ea7a6d" stroke-width="1" />
<path d="M842.00,834.72 L848.50,846.42 L835.50,846.42 Z" stroke="none" fill="#ea7a6d" stroke-width="1" />
<path d="M933.20,789.58 L939.70,801.28 L926.70,801.28 Z" stroke="none" fill="#ea7a6d" stroke-width="1" />
<path d="M1024.40,717.36 L1030.90,729.06 L1017.90,729.06 Z" stroke="none" fill="#ea7a6d" stroke-width="1" />
<polyline points="203.60,971.55 294.80,960.81 386.00,950.51 477.20,938.46 568.40,923.43 659.60,894.17 750.80,861.93 842.00,823.67 933.20,772.95 1024.40,691.29" fill="none" stroke="#4eb1e6" stroke-width="3.2" stroke-linejoin="round" stroke-linecap="round"/>
<path d="M203.60,965.70 L209.45,971.55 L203.60,977.40 L197.75,971.55 Z" stroke="none" fill="#4eb1e6" stroke-width="1" />
<path d="M294.80,954.96 L300.65,960.81 L294.80,966.66 L288.95,960.81 Z" stroke="none" fill="#4eb1e6" stroke-width="1" />
<path d="M386.00,944.66 L391.85,950.51 L386.00,956.36 L380.15,950.51 Z" stroke="none" fill="#4eb1e6" stroke-width="1" />
<path d="M477.20,932.61 L483.05,938.46 L477.20,944.31 L471.35,938.46 Z" stroke="none" fill="#4eb1e6" stroke-width="1" />
<path d="M568.40,917.58 L574.25,923.43 L568.40,929.28 L562.55,923.43 Z" stroke="none" fill="#4eb1e6" stroke-width="1" />
<path d="M659.60,888.32 L665.45,894.17 L659.60,900.02 L653.75,894.17 Z" stroke="none" fill="#4eb1e6" stroke-width="1" />
<path d="M750.80,856.08 L756.65,861.93 L750.80,867.78 L744.95,861.93 Z" stroke="none" fill="#4eb1e6" stroke-width="1" />
<path d="M842.00,817.82 L847.85,823.67 L842.00,829.52 L836.15,823.67 Z" stroke="none" fill="#4eb1e6" stroke-width="1" />
<path d="M933.20,767.10 L939.05,772.95 L933.20,778.80 L927.35,772.95 Z" stroke="none" fill="#4eb1e6" stroke-width="1" />
<path d="M1024.40,685.44 L1030.25,691.29 L1024.40,697.14 L1018.55,691.29 Z" stroke="none" fill="#4eb1e6" stroke-width="1" />
<polyline points="203.60,968.54 294.80,957.79 386.00,944.93 477.20,931.17 568.40,915.66 659.60,883.42 750.80,846.05 842.00,804.33 933.20,747.59 1024.40,655.59" fill="none" stroke="#2db4a2" stroke-width="3.2" stroke-linejoin="round" stroke-linecap="round"/>
<rect x="197.10" y="962.04" width="13.00" height="13.00" fill="#2db4a2" />
<rect x="288.30" y="951.29" width="13.00" height="13.00" fill="#2db4a2" />
<rect x="379.50" y="938.43" width="13.00" height="13.00" fill="#2db4a2" />
<rect x="470.70" y="924.67" width="13.00" height="13.00" fill="#2db4a2" />
<rect x="561.90" y="909.16" width="13.00" height="13.00" fill="#2db4a2" />
<rect x="653.10" y="876.92" width="13.00" height="13.00" fill="#2db4a2" />
<rect x="744.30" y="839.55" width="13.00" height="13.00" fill="#2db4a2" />
<rect x="835.50" y="797.83" width="13.00" height="13.00" fill="#2db4a2" />
<rect x="926.70" y="741.09" width="13.00" height="13.00" fill="#2db4a2" />
<rect x="1017.90" y="649.09" width="13.00" height="13.00" fill="#2db4a2" />
<rect x="1157.10" y="503.20" width="1058.90" height="33.60" fill="#4b4fd1" />
<text x="1315.70" y="529.00" font-family='"Liberation Sans", sans-serif' font-size="24.5" font-weight="bold" fill="#ffffff" text-anchor="start" textLength="740.70" lengthAdjust="spacingAndGlyphs" stroke="#fff" stroke-width="0.6">Revenue Scenarios ($&#x27;000) - 10 years to December 2035</text>
<line x1="1317.00" y1="575.40" x2="1361.60" y2="575.40" stroke="#ea7a6d" stroke-width="3.2" />
<path d="M1339.30,570.54 L1343.80,578.64 L1334.80,578.64 Z" stroke="none" fill="#ea7a6d" stroke-width="1" />
<text x="1364.80" y="581.70" font-family='"Liberation Sans", sans-serif' font-size="17.5" font-weight="bold" fill="#000000" text-anchor="start" textLength="118.20" lengthAdjust="spacingAndGlyphs" stroke="#000" stroke-width="0.35">Low Revenue</text>
<line x1="1603.60" y1="575.40" x2="1646.60" y2="575.40" stroke="#4eb1e6" stroke-width="3.2" />
<path d="M1625.10,571.35 L1629.15,575.40 L1625.10,579.45 L1621.05,575.40 Z" stroke="none" fill="#4eb1e6" stroke-width="1" />
<text x="1651.00" y="581.70" font-family='"Liberation Sans", sans-serif' font-size="17.5" font-weight="bold" fill="#000000" text-anchor="start" textLength="123.60" lengthAdjust="spacingAndGlyphs" stroke="#000" stroke-width="0.35">Base Revenue</text>
<line x1="1894.20" y1="575.40" x2="1937.60" y2="575.40" stroke="#2db4a2" stroke-width="3.2" />
<rect x="1911.40" y="570.90" width="9.00" height="9.00" fill="#2db4a2" />
<text x="1942.00" y="581.70" font-family='"Liberation Sans", sans-serif' font-size="17.5" font-weight="bold" fill="#000000" text-anchor="start" textLength="123.20" lengthAdjust="spacingAndGlyphs" stroke="#000" stroke-width="0.35">High Revenue</text>
<line x1="1249.00" y1="949.50" x2="2208.50" y2="949.50" stroke="#4a9fd6" stroke-width="1" />
<line x1="1249.00" y1="912.50" x2="2208.50" y2="912.50" stroke="#4a9fd6" stroke-width="1" />
<line x1="1249.00" y1="875.50" x2="2208.50" y2="875.50" stroke="#4a9fd6" stroke-width="1" />
<line x1="1249.00" y1="838.50" x2="2208.50" y2="838.50" stroke="#4a9fd6" stroke-width="1" />
<line x1="1249.00" y1="801.50" x2="2208.50" y2="801.50" stroke="#4a9fd6" stroke-width="1" />
<line x1="1249.00" y1="764.50" x2="2208.50" y2="764.50" stroke="#4a9fd6" stroke-width="1" />
<line x1="1249.00" y1="727.50" x2="2208.50" y2="727.50" stroke="#4a9fd6" stroke-width="1" />
<line x1="1249.00" y1="690.50" x2="2208.50" y2="690.50" stroke="#4a9fd6" stroke-width="1" />
<line x1="1249.00" y1="653.50" x2="2208.50" y2="653.50" stroke="#4a9fd6" stroke-width="1" />
<line x1="1344.50" y1="616.20" x2="1344.50" y2="986.60" stroke="#4a9fd6" stroke-width="1" />
<line x1="1440.50" y1="616.20" x2="1440.50" y2="986.60" stroke="#4a9fd6" stroke-width="1" />
<line x1="1536.50" y1="616.20" x2="1536.50" y2="986.60" stroke="#4a9fd6" stroke-width="1" />
<line x1="1632.50" y1="616.20" x2="1632.50" y2="986.60" stroke="#4a9fd6" stroke-width="1" />
<line x1="1728.50" y1="616.20" x2="1728.50" y2="986.60" stroke="#4a9fd6" stroke-width="1" />
<line x1="1824.50" y1="616.20" x2="1824.50" y2="986.60" stroke="#4a9fd6" stroke-width="1" />
<line x1="1920.50" y1="616.20" x2="1920.50" y2="986.60" stroke="#4a9fd6" stroke-width="1" />
<line x1="2016.50" y1="616.20" x2="2016.50" y2="986.60" stroke="#4a9fd6" stroke-width="1" />
<line x1="2112.50" y1="616.20" x2="2112.50" y2="986.60" stroke="#4a9fd6" stroke-width="1" />
<rect x="1249.00" y="616.20" width="959.50" height="370.40" fill="none" stroke="#52a8d8" stroke-width="2"/>
<line x1="1249.50" y1="986.60" x2="1249.50" y2="992.10" stroke="#4a9fd6" stroke-width="1" />
<line x1="1344.50" y1="986.60" x2="1344.50" y2="992.10" stroke="#4a9fd6" stroke-width="1" />
<line x1="1440.50" y1="986.60" x2="1440.50" y2="992.10" stroke="#4a9fd6" stroke-width="1" />
<line x1="1536.50" y1="986.60" x2="1536.50" y2="992.10" stroke="#4a9fd6" stroke-width="1" />
<line x1="1632.50" y1="986.60" x2="1632.50" y2="992.10" stroke="#4a9fd6" stroke-width="1" />
<line x1="1728.50" y1="986.60" x2="1728.50" y2="992.10" stroke="#4a9fd6" stroke-width="1" />
<line x1="1824.50" y1="986.60" x2="1824.50" y2="992.10" stroke="#4a9fd6" stroke-width="1" />
<line x1="1920.50" y1="986.60" x2="1920.50" y2="992.10" stroke="#4a9fd6" stroke-width="1" />
<line x1="2016.50" y1="986.60" x2="2016.50" y2="992.10" stroke="#4a9fd6" stroke-width="1" />
<line x1="2112.50" y1="986.60" x2="2112.50" y2="992.10" stroke="#4a9fd6" stroke-width="1" />
<line x1="2208.50" y1="986.60" x2="2208.50" y2="992.10" stroke="#4a9fd6" stroke-width="1" />
<text x="1220.00" y="992.90" font-family='"Liberation Sans", sans-serif' font-size="17.5" font-weight="bold" fill="#000" text-anchor="start" textLength="6.00" lengthAdjust="spacingAndGlyphs" >-</text>
<text x="1177.00" y="955.86" font-family='"Liberation Sans", sans-serif' font-size="17.5" font-weight="bold" fill="#000" text-anchor="start" textLength="49.00" lengthAdjust="spacingAndGlyphs" stroke="#000" stroke-width="0.35">1,000</text>
<text x="1177.00" y="918.82" font-family='"Liberation Sans", sans-serif' font-size="17.5" font-weight="bold" fill="#000" text-anchor="start" textLength="49.00" lengthAdjust="spacingAndGlyphs" stroke="#000" stroke-width="0.35">2,000</text>
<text x="1177.00" y="881.78" font-family='"Liberation Sans", sans-serif' font-size="17.5" font-weight="bold" fill="#000" text-anchor="start" textLength="49.00" lengthAdjust="spacingAndGlyphs" stroke="#000" stroke-width="0.35">3,000</text>
<text x="1177.00" y="844.74" font-family='"Liberation Sans", sans-serif' font-size="17.5" font-weight="bold" fill="#000" text-anchor="start" textLength="49.00" lengthAdjust="spacingAndGlyphs" stroke="#000" stroke-width="0.35">4,000</text>
<text x="1177.00" y="807.70" font-family='"Liberation Sans", sans-serif' font-size="17.5" font-weight="bold" fill="#000" text-anchor="start" textLength="49.00" lengthAdjust="spacingAndGlyphs" stroke="#000" stroke-width="0.35">5,000</text>
<text x="1177.00" y="770.66" font-family='"Liberation Sans", sans-serif' font-size="17.5" font-weight="bold" fill="#000" text-anchor="start" textLength="49.00" lengthAdjust="spacingAndGlyphs" stroke="#000" stroke-width="0.35">6,000</text>
<text x="1177.00" y="733.62" font-family='"Liberation Sans", sans-serif' font-size="17.5" font-weight="bold" fill="#000" text-anchor="start" textLength="49.00" lengthAdjust="spacingAndGlyphs" stroke="#000" stroke-width="0.35">7,000</text>
<text x="1177.00" y="696.58" font-family='"Liberation Sans", sans-serif' font-size="17.5" font-weight="bold" fill="#000" text-anchor="start" textLength="49.00" lengthAdjust="spacingAndGlyphs" stroke="#000" stroke-width="0.35">8,000</text>
<text x="1177.00" y="659.54" font-family='"Liberation Sans", sans-serif' font-size="17.5" font-weight="bold" fill="#000" text-anchor="start" textLength="49.00" lengthAdjust="spacingAndGlyphs" stroke="#000" stroke-width="0.35">9,000</text>
<text x="1166.00" y="622.50" font-family='"Liberation Sans", sans-serif' font-size="17.5" font-weight="bold" fill="#000" text-anchor="start" textLength="60.00" lengthAdjust="spacingAndGlyphs" stroke="#000" stroke-width="0.35">10,000</text>
<text x="1275.27" y="1036.50" font-family='"Liberation Sans", sans-serif' font-size="17" font-weight="bold" fill="#000" text-anchor="start" textLength="43.40" lengthAdjust="spacingAndGlyphs" stroke="#000" stroke-width="0.35">2026</text>
<text x="1371.22" y="1036.50" font-family='"Liberation Sans", sans-serif' font-size="17" font-weight="bold" fill="#000" text-anchor="start" textLength="43.40" lengthAdjust="spacingAndGlyphs" stroke="#000" stroke-width="0.35">2027</text>
<text x="1467.17" y="1036.50" font-family='"Liberation Sans", sans-serif' font-size="17" font-weight="bold" fill="#000" text-anchor="start" textLength="43.40" lengthAdjust="spacingAndGlyphs" stroke="#000" stroke-width="0.35">2028</text>
<text x="1563.12" y="1036.50" font-family='"Liberation Sans", sans-serif' font-size="17" font-weight="bold" fill="#000" text-anchor="start" textLength="43.40" lengthAdjust="spacingAndGlyphs" stroke="#000" stroke-width="0.35">2029</text>
<text x="1659.08" y="1036.50" font-family='"Liberation Sans", sans-serif' font-size="17" font-weight="bold" fill="#000" text-anchor="start" textLength="43.40" lengthAdjust="spacingAndGlyphs" stroke="#000" stroke-width="0.35">2030</text>
<text x="1755.02" y="1036.50" font-family='"Liberation Sans", sans-serif' font-size="17" font-weight="bold" fill="#000" text-anchor="start" textLength="43.40" lengthAdjust="spacingAndGlyphs" stroke="#000" stroke-width="0.35">2031</text>
<text x="1850.98" y="1036.50" font-family='"Liberation Sans", sans-serif' font-size="17" font-weight="bold" fill="#000" text-anchor="start" textLength="43.40" lengthAdjust="spacingAndGlyphs" stroke="#000" stroke-width="0.35">2032</text>
<text x="1946.92" y="1036.50" font-family='"Liberation Sans", sans-serif' font-size="17" font-weight="bold" fill="#000" text-anchor="start" textLength="43.40" lengthAdjust="spacingAndGlyphs" stroke="#000" stroke-width="0.35">2033</text>
<text x="2042.87" y="1036.50" font-family='"Liberation Sans", sans-serif' font-size="17" font-weight="bold" fill="#000" text-anchor="start" textLength="43.40" lengthAdjust="spacingAndGlyphs" stroke="#000" stroke-width="0.35">2034</text>
<text x="2138.83" y="1036.50" font-family='"Liberation Sans", sans-serif' font-size="17" font-weight="bold" fill="#000" text-anchor="start" textLength="43.40" lengthAdjust="spacingAndGlyphs" stroke="#000" stroke-width="0.35">2035</text>
<polyline points="1296.97,974.75 1392.92,964.67 1488.88,954.60 1584.83,942.78 1680.78,927.41 1776.72,899.82 1872.68,867.37 1968.62,830.11 2064.57,781.44 2160.53,701.69" fill="none" stroke="#ea7a6d" stroke-width="3.2" stroke-linejoin="round" stroke-linecap="round"/>
<path d="M1296.97,967.73 L1303.47,979.43 L1290.47,979.43 Z" stroke="none" fill="#ea7a6d" stroke-width="1" />
<path d="M1392.92,957.65 L1399.42,969.35 L1386.42,969.35 Z" stroke="none" fill="#ea7a6d" stroke-width="1" />
<path d="M1488.88,947.58 L1495.38,959.28 L1482.38,959.28 Z" stroke="none" fill="#ea7a6d" stroke-width="1" />
<path d="M1584.83,935.76 L1591.33,947.46 L1578.33,947.46 Z" stroke="none" fill="#ea7a6d" stroke-width="1" />
<path d="M1680.78,920.39 L1687.28,932.09 L1674.28,932.09 Z" stroke="none" fill="#ea7a6d" stroke-width="1" />
<path d="M1776.72,892.80 L1783.22,904.50 L1770.22,904.50 Z" stroke="none" fill="#ea7a6d" stroke-width="1" />
<path d="M1872.68,860.35 L1879.18,872.05 L1866.18,872.05 Z" stroke="none" fill="#ea7a6d" stroke-width="1" />
<path d="M1968.62,823.09 L1975.12,834.79 L1962.12,834.79 Z" stroke="none" fill="#ea7a6d" stroke-width="1" />
<path d="M2064.57,774.42 L2071.07,786.12 L2058.07,786.12 Z" stroke="none" fill="#ea7a6d" stroke-width="1" />
<path d="M2160.53,694.67 L2167.03,706.37 L2154.03,706.37 Z" stroke="none" fill="#ea7a6d" stroke-width="1" />
<polyline points="1296.97,973.45 1392.92,962.49 1488.88,951.52 1584.83,937.52 1680.78,919.97 1776.72,890.15 1872.68,854.22 1968.62,813.44 2064.57,759.54 2160.53,669.24" fill="none" stroke="#4eb1e6" stroke-width="3.2" stroke-linejoin="round" stroke-linecap="round"/>
<path d="M1296.97,967.60 L1302.82,973.45 L1296.97,979.30 L1291.12,973.45 Z" stroke="none" fill="#4eb1e6" stroke-width="1" />
<path d="M1392.92,956.64 L1398.77,962.49 L1392.92,968.34 L1387.08,962.49 Z" stroke="none" fill="#4eb1e6" stroke-width="1" />
<path d="M1488.88,945.67 L1494.72,951.52 L1488.88,957.37 L1483.03,951.52 Z" stroke="none" fill="#4eb1e6" stroke-width="1" />
<path d="M1584.83,931.67 L1590.67,937.52 L1584.83,943.37 L1578.98,937.52 Z" stroke="none" fill="#4eb1e6" stroke-width="1" />
<path d="M1680.78,914.12 L1686.62,919.97 L1680.78,925.82 L1674.93,919.97 Z" stroke="none" fill="#4eb1e6" stroke-width="1" />
<path d="M1776.72,884.30 L1782.57,890.15 L1776.72,896.00 L1770.88,890.15 Z" stroke="none" fill="#4eb1e6" stroke-width="1" />
<path d="M1872.68,848.37 L1878.53,854.22 L1872.68,860.07 L1866.83,854.22 Z" stroke="none" fill="#4eb1e6" stroke-width="1" />
<path d="M1968.62,807.59 L1974.47,813.44 L1968.62,819.29 L1962.78,813.44 Z" stroke="none" fill="#4eb1e6" stroke-width="1" />
<path d="M2064.57,753.69 L2070.42,759.54 L2064.57,765.39 L2058.72,759.54 Z" stroke="none" fill="#4eb1e6" stroke-width="1" />
<path d="M2160.53,663.39 L2166.38,669.24 L2160.53,675.09 L2154.68,669.24 Z" stroke="none" fill="#4eb1e6" stroke-width="1" />
<polyline points="1296.97,971.27 1392.92,958.97 1488.88,946.26 1584.83,931.82 1680.78,912.08 1776.72,879.22 1872.68,838.88 1968.62,794.62 2064.57,735.43 2160.53,637.24" fill="none" stroke="#2db4a2" stroke-width="3.2" stroke-linejoin="round" stroke-linecap="round"/>
<rect x="1290.47" y="964.77" width="13.00" height="13.00" fill="#2db4a2" />
<rect x="1386.42" y="952.47" width="13.00" height="13.00" fill="#2db4a2" />
<rect x="1482.38" y="939.76" width="13.00" height="13.00" fill="#2db4a2" />
<rect x="1578.33" y="925.32" width="13.00" height="13.00" fill="#2db4a2" />
<rect x="1674.28" y="905.58" width="13.00" height="13.00" fill="#2db4a2" />
<rect x="1770.22" y="872.72" width="13.00" height="13.00" fill="#2db4a2" />
<rect x="1866.18" y="832.38" width="13.00" height="13.00" fill="#2db4a2" />
<rect x="1962.12" y="788.12" width="13.00" height="13.00" fill="#2db4a2" />
<rect x="2058.07" y="728.93" width="13.00" height="13.00" fill="#2db4a2" />
<rect x="2154.03" y="630.74" width="13.00" height="13.00" fill="#2db4a2" />
<rect x="69.50" y="1046.50" width="1044.30" height="34.40" fill="#4b4fd1" />
<text x="145.20" y="1074.40" font-family='"Liberation Sans", sans-serif' font-size="24.5" font-weight="bold" fill="#ffffff" text-anchor="start" textLength="892.20" lengthAdjust="spacingAndGlyphs" stroke="#fff" stroke-width="0.6">Contribution Margin Scenarios ($&#x27;000) - 10 years to December 2035</text>
<line x1="131.00" y1="1117.40" x2="175.30" y2="1117.40" stroke="#ea7a6d" stroke-width="3.2" />
<path d="M153.15,1112.54 L157.65,1120.64 L148.65,1120.64 Z" stroke="none" fill="#ea7a6d" stroke-width="1" />
<text x="179.20" y="1123.70" font-family='"Liberation Sans", sans-serif' font-size="17.5" font-weight="bold" fill="#000000" text-anchor="start" textLength="218.50" lengthAdjust="spacingAndGlyphs" stroke="#000" stroke-width="0.35">Low Contribution Margin</text>
<line x1="455.80" y1="1117.40" x2="501.00" y2="1117.40" stroke="#4eb1e6" stroke-width="3.2" />
<path d="M478.40,1113.35 L482.45,1117.40 L478.40,1121.45 L474.35,1117.40 Z" stroke="none" fill="#4eb1e6" stroke-width="1" />
<text x="505.30" y="1123.70" font-family='"Liberation Sans", sans-serif' font-size="17.5" font-weight="bold" fill="#000000" text-anchor="start" textLength="223.70" lengthAdjust="spacingAndGlyphs" stroke="#000" stroke-width="0.35">Base Contribution Margin</text>
<line x1="788.00" y1="1117.40" x2="832.20" y2="1117.40" stroke="#2db4a2" stroke-width="3.2" />
<rect x="805.60" y="1112.90" width="9.00" height="9.00" fill="#2db4a2" />
<text x="836.50" y="1123.70" font-family='"Liberation Sans", sans-serif' font-size="17.5" font-weight="bold" fill="#000000" text-anchor="start" textLength="222.50" lengthAdjust="spacingAndGlyphs" stroke="#000" stroke-width="0.35">High Contribution Margin</text>
<line x1="149.50" y1="1521.50" x2="1103.20" y2="1521.50" stroke="#4a9fd6" stroke-width="1" />
<line x1="149.50" y1="1476.50" x2="1103.20" y2="1476.50" stroke="#4a9fd6" stroke-width="1" />
<line x1="149.50" y1="1431.50" x2="1103.20" y2="1431.50" stroke="#4a9fd6" stroke-width="1" />
<line x1="149.50" y1="1387.50" x2="1103.20" y2="1387.50" stroke="#4a9fd6" stroke-width="1" />
<line x1="149.50" y1="1342.50" x2="1103.20" y2="1342.50" stroke="#4a9fd6" stroke-width="1" />
<line x1="149.50" y1="1297.50" x2="1103.20" y2="1297.50" stroke="#4a9fd6" stroke-width="1" />
<line x1="149.50" y1="1252.50" x2="1103.20" y2="1252.50" stroke="#4a9fd6" stroke-width="1" />
<line x1="149.50" y1="1207.50" x2="1103.20" y2="1207.50" stroke="#4a9fd6" stroke-width="1" />
<line x1="244.50" y1="1162.60" x2="244.50" y2="1566.60" stroke="#4a9fd6" stroke-width="1" />
<line x1="340.50" y1="1162.60" x2="340.50" y2="1566.60" stroke="#4a9fd6" stroke-width="1" />
<line x1="435.50" y1="1162.60" x2="435.50" y2="1566.60" stroke="#4a9fd6" stroke-width="1" />
<line x1="530.50" y1="1162.60" x2="530.50" y2="1566.60" stroke="#4a9fd6" stroke-width="1" />
<line x1="626.50" y1="1162.60" x2="626.50" y2="1566.60" stroke="#4a9fd6" stroke-width="1" />
<line x1="721.50" y1="1162.60" x2="721.50" y2="1566.60" stroke="#4a9fd6" stroke-width="1" />
<line x1="817.50" y1="1162.60" x2="817.50" y2="1566.60" stroke="#4a9fd6" stroke-width="1" />
<line x1="912.50" y1="1162.60" x2="912.50" y2="1566.60" stroke="#4a9fd6" stroke-width="1" />
<line x1="1007.50" y1="1162.60" x2="1007.50" y2="1566.60" stroke="#4a9fd6" stroke-width="1" />
<rect x="149.50" y="1162.60" width="953.70" height="404.00" fill="none" stroke="#52a8d8" stroke-width="2"/>
<line x1="149.50" y1="1566.60" x2="149.50" y2="1572.10" stroke="#4a9fd6" stroke-width="1" />
<line x1="244.50" y1="1566.60" x2="244.50" y2="1572.10" stroke="#4a9fd6" stroke-width="1" />
<line x1="340.50" y1="1566.60" x2="340.50" y2="1572.10" stroke="#4a9fd6" stroke-width="1" />
<line x1="435.50" y1="1566.60" x2="435.50" y2="1572.10" stroke="#4a9fd6" stroke-width="1" />
<line x1="530.50" y1="1566.60" x2="530.50" y2="1572.10" stroke="#4a9fd6" stroke-width="1" />
<line x1="626.50" y1="1566.60" x2="626.50" y2="1572.10" stroke="#4a9fd6" stroke-width="1" />
<line x1="721.50" y1="1566.60" x2="721.50" y2="1572.10" stroke="#4a9fd6" stroke-width="1" />
<line x1="817.50" y1="1566.60" x2="817.50" y2="1572.10" stroke="#4a9fd6" stroke-width="1" />
<line x1="912.50" y1="1566.60" x2="912.50" y2="1572.10" stroke="#4a9fd6" stroke-width="1" />
<line x1="1007.50" y1="1566.60" x2="1007.50" y2="1572.10" stroke="#4a9fd6" stroke-width="1" />
<line x1="1103.50" y1="1566.60" x2="1103.50" y2="1572.10" stroke="#4a9fd6" stroke-width="1" />
<text x="122.00" y="1572.90" font-family='"Liberation Sans", sans-serif' font-size="17.5" font-weight="bold" fill="#000" text-anchor="start" textLength="6.00" lengthAdjust="spacingAndGlyphs" >-</text>
<text x="79.00" y="1528.01" font-family='"Liberation Sans", sans-serif' font-size="17.5" font-weight="bold" fill="#000" text-anchor="start" textLength="49.00" lengthAdjust="spacingAndGlyphs" stroke="#000" stroke-width="0.35">1,000</text>
<text x="79.00" y="1483.12" font-family='"Liberation Sans", sans-serif' font-size="17.5" font-weight="bold" fill="#000" text-anchor="start" textLength="49.00" lengthAdjust="spacingAndGlyphs" stroke="#000" stroke-width="0.35">2,000</text>
<text x="79.00" y="1438.23" font-family='"Liberation Sans", sans-serif' font-size="17.5" font-weight="bold" fill="#000" text-anchor="start" textLength="49.00" lengthAdjust="spacingAndGlyphs" stroke="#000" stroke-width="0.35">3,000</text>
<text x="79.00" y="1393.34" font-family='"Liberation Sans", sans-serif' font-size="17.5" font-weight="bold" fill="#000" text-anchor="start" textLength="49.00" lengthAdjust="spacingAndGlyphs" stroke="#000" stroke-width="0.35">4,000</text>
<text x="79.00" y="1348.46" font-family='"Liberation Sans", sans-serif' font-size="17.5" font-weight="bold" fill="#000" text-anchor="start" textLength="49.00" lengthAdjust="spacingAndGlyphs" stroke="#000" stroke-width="0.35">5,000</text>
<text x="79.00" y="1303.57" font-family='"Liberation Sans", sans-serif' font-size="17.5" font-weight="bold" fill="#000" text-anchor="start" textLength="49.00" lengthAdjust="spacingAndGlyphs" stroke="#000" stroke-width="0.35">6,000</text>
<text x="79.00" y="1258.68" font-family='"Liberation Sans", sans-serif' font-size="17.5" font-weight="bold" fill="#000" text-anchor="start" textLength="49.00" lengthAdjust="spacingAndGlyphs" stroke="#000" stroke-width="0.35">7,000</text>
<text x="79.00" y="1213.79" font-family='"Liberation Sans", sans-serif' font-size="17.5" font-weight="bold" fill="#000" text-anchor="start" textLength="49.00" lengthAdjust="spacingAndGlyphs" stroke="#000" stroke-width="0.35">8,000</text>
<text x="79.00" y="1168.90" font-family='"Liberation Sans", sans-serif' font-size="17.5" font-weight="bold" fill="#000" text-anchor="start" textLength="49.00" lengthAdjust="spacingAndGlyphs" stroke="#000" stroke-width="0.35">9,000</text>
<text x="175.49" y="1616.50" font-family='"Liberation Sans", sans-serif' font-size="17" font-weight="bold" fill="#000" text-anchor="start" textLength="43.40" lengthAdjust="spacingAndGlyphs" stroke="#000" stroke-width="0.35">2026</text>
<text x="270.86" y="1616.50" font-family='"Liberation Sans", sans-serif' font-size="17" font-weight="bold" fill="#000" text-anchor="start" textLength="43.40" lengthAdjust="spacingAndGlyphs" stroke="#000" stroke-width="0.35">2027</text>
<text x="366.23" y="1616.50" font-family='"Liberation Sans", sans-serif' font-size="17" font-weight="bold" fill="#000" text-anchor="start" textLength="43.40" lengthAdjust="spacingAndGlyphs" stroke="#000" stroke-width="0.35">2028</text>
<text x="461.60" y="1616.50" font-family='"Liberation Sans", sans-serif' font-size="17" font-weight="bold" fill="#000" text-anchor="start" textLength="43.40" lengthAdjust="spacingAndGlyphs" stroke="#000" stroke-width="0.35">2029</text>
<text x="556.96" y="1616.50" font-family='"Liberation Sans", sans-serif' font-size="17" font-weight="bold" fill="#000" text-anchor="start" textLength="43.40" lengthAdjust="spacingAndGlyphs" stroke="#000" stroke-width="0.35">2030</text>
<text x="652.34" y="1616.50" font-family='"Liberation Sans", sans-serif' font-size="17" font-weight="bold" fill="#000" text-anchor="start" textLength="43.40" lengthAdjust="spacingAndGlyphs" stroke="#000" stroke-width="0.35">2031</text>
<text x="747.70" y="1616.50" font-family='"Liberation Sans", sans-serif' font-size="17" font-weight="bold" fill="#000" text-anchor="start" textLength="43.40" lengthAdjust="spacingAndGlyphs" stroke="#000" stroke-width="0.35">2032</text>
<text x="843.08" y="1616.50" font-family='"Liberation Sans", sans-serif' font-size="17" font-weight="bold" fill="#000" text-anchor="start" textLength="43.40" lengthAdjust="spacingAndGlyphs" stroke="#000" stroke-width="0.35">2033</text>
<text x="938.44" y="1616.50" font-family='"Liberation Sans", sans-serif' font-size="17" font-weight="bold" fill="#000" text-anchor="start" textLength="43.40" lengthAdjust="spacingAndGlyphs" stroke="#000" stroke-width="0.35">2034</text>
<text x="1033.82" y="1616.50" font-family='"Liberation Sans", sans-serif' font-size="17" font-weight="bold" fill="#000" text-anchor="start" textLength="43.40" lengthAdjust="spacingAndGlyphs" stroke="#000" stroke-width="0.35">2035</text>
<polyline points="197.19,1554.97 292.56,1545.50 387.93,1534.77 483.30,1522.70 578.66,1506.81 674.04,1479.70 769.40,1446.57 864.78,1408.68 960.14,1357.06 1055.52,1275.76" fill="none" stroke="#ea7a6d" stroke-width="3.2" stroke-linejoin="round" stroke-linecap="round"/>
<path d="M197.19,1547.95 L203.69,1559.65 L190.69,1559.65 Z" stroke="none" fill="#ea7a6d" stroke-width="1" />
<path d="M292.56,1538.48 L299.06,1550.18 L286.06,1550.18 Z" stroke="none" fill="#ea7a6d" stroke-width="1" />
<path d="M387.93,1527.75 L394.43,1539.45 L381.43,1539.45 Z" stroke="none" fill="#ea7a6d" stroke-width="1" />
<path d="M483.30,1515.68 L489.80,1527.38 L476.80,1527.38 Z" stroke="none" fill="#ea7a6d" stroke-width="1" />
<path d="M578.66,1499.79 L585.16,1511.49 L572.16,1511.49 Z" stroke="none" fill="#ea7a6d" stroke-width="1" />
<path d="M674.04,1472.68 L680.54,1484.38 L667.54,1484.38 Z" stroke="none" fill="#ea7a6d" stroke-width="1" />
<path d="M769.40,1439.55 L775.90,1451.25 L762.90,1451.25 Z" stroke="none" fill="#ea7a6d" stroke-width="1" />
<path d="M864.78,1401.66 L871.28,1413.36 L858.28,1413.36 Z" stroke="none" fill="#ea7a6d" stroke-width="1" />
<path d="M960.14,1350.04 L966.64,1361.74 L953.64,1361.74 Z" stroke="none" fill="#ea7a6d" stroke-width="1" />
<path d="M1055.52,1268.74 L1062.02,1280.44 L1049.02,1280.44 Z" stroke="none" fill="#ea7a6d" stroke-width="1" />
<polyline points="197.19,1552.82 292.56,1541.24 387.93,1529.61 483.30,1515.38 578.66,1498.19 674.04,1465.91 769.40,1428.07 864.78,1385.02 960.14,1326.09 1055.52,1232.72" fill="none" stroke="#4eb1e6" stroke-width="3.2" stroke-linejoin="round" stroke-linecap="round"/>
<path d="M197.19,1546.97 L203.03,1552.82 L197.19,1558.67 L191.34,1552.82 Z" stroke="none" fill="#4eb1e6" stroke-width="1" />
<path d="M292.56,1535.39 L298.41,1541.24 L292.56,1547.09 L286.70,1541.24 Z" stroke="none" fill="#4eb1e6" stroke-width="1" />
<path d="M387.93,1523.76 L393.78,1529.61 L387.93,1535.46 L382.07,1529.61 Z" stroke="none" fill="#4eb1e6" stroke-width="1" />
<path d="M483.30,1509.53 L489.15,1515.38 L483.30,1521.23 L477.44,1515.38 Z" stroke="none" fill="#4eb1e6" stroke-width="1" />
<path d="M578.66,1492.34 L584.51,1498.19 L578.66,1504.04 L572.81,1498.19 Z" stroke="none" fill="#4eb1e6" stroke-width="1" />
<path d="M674.04,1460.06 L679.89,1465.91 L674.04,1471.76 L668.19,1465.91 Z" stroke="none" fill="#4eb1e6" stroke-width="1" />
<path d="M769.40,1422.22 L775.25,1428.07 L769.40,1433.92 L763.55,1428.07 Z" stroke="none" fill="#4eb1e6" stroke-width="1" />
<path d="M864.78,1379.17 L870.63,1385.02 L864.78,1390.87 L858.93,1385.02 Z" stroke="none" fill="#4eb1e6" stroke-width="1" />
<path d="M960.14,1320.24 L966.00,1326.09 L960.14,1331.94 L954.29,1326.09 Z" stroke="none" fill="#4eb1e6" stroke-width="1" />
<path d="M1055.52,1226.87 L1061.37,1232.72 L1055.52,1238.57 L1049.67,1232.72 Z" stroke="none" fill="#4eb1e6" stroke-width="1" />
<polyline points="197.19,1550.66 292.56,1538.19 387.93,1524.00 483.30,1507.66 578.66,1488.31 674.04,1452.13 769.40,1409.13 864.78,1360.52 960.14,1294.66 1055.52,1188.41" fill="none" stroke="#2db4a2" stroke-width="3.2" stroke-linejoin="round" stroke-linecap="round"/>
<rect x="190.69" y="1544.16" width="13.00" height="13.00" fill="#2db4a2" />
<rect x="286.06" y="1531.69" width="13.00" height="13.00" fill="#2db4a2" />
<rect x="381.43" y="1517.50" width="13.00" height="13.00" fill="#2db4a2" />
<rect x="476.80" y="1501.16" width="13.00" height="13.00" fill="#2db4a2" />
<rect x="572.16" y="1481.81" width="13.00" height="13.00" fill="#2db4a2" />
<rect x="667.54" y="1445.63" width="13.00" height="13.00" fill="#2db4a2" />
<rect x="762.90" y="1402.63" width="13.00" height="13.00" fill="#2db4a2" />
<rect x="858.28" y="1354.02" width="13.00" height="13.00" fill="#2db4a2" />
<rect x="953.64" y="1288.16" width="13.00" height="13.00" fill="#2db4a2" />
<rect x="1049.02" y="1181.91" width="13.00" height="13.00" fill="#2db4a2" />
<rect x="1157.10" y="1046.60" width="1058.90" height="34.20" fill="#4b4fd1" />
<text x="1321.80" y="1074.20" font-family='"Liberation Sans", sans-serif' font-size="24.5" font-weight="bold" fill="#ffffff" text-anchor="start" textLength="728.90" lengthAdjust="spacingAndGlyphs" stroke="#fff" stroke-width="0.6">EBITDA Scenarios ($&#x27;000) - 10 years to December 2035</text>
<line x1="1306.50" y1="1117.60" x2="1350.30" y2="1117.60" stroke="#ea7a6d" stroke-width="3.2" />
<path d="M1328.40,1112.74 L1332.90,1120.84 L1323.90,1120.84 Z" stroke="none" fill="#ea7a6d" stroke-width="1" />
<text x="1353.80" y="1123.90" font-family='"Liberation Sans", sans-serif' font-size="17.5" font-weight="bold" fill="#000000" text-anchor="start" textLength="108.70" lengthAdjust="spacingAndGlyphs" stroke="#000" stroke-width="0.35">Low EBITDA</text>
<line x1="1602.80" y1="1117.60" x2="1646.60" y2="1117.60" stroke="#4eb1e6" stroke-width="3.2" />
<path d="M1624.70,1113.55 L1628.75,1117.60 L1624.70,1121.65 L1620.65,1117.60 Z" stroke="none" fill="#4eb1e6" stroke-width="1" />
<text x="1650.50" y="1123.90" font-family='"Liberation Sans", sans-serif' font-size="17.5" font-weight="bold" fill="#000000" text-anchor="start" textLength="114.00" lengthAdjust="spacingAndGlyphs" stroke="#000" stroke-width="0.35">Base EBITDA</text>
<line x1="1903.90" y1="1117.60" x2="1946.80" y2="1117.60" stroke="#2db4a2" stroke-width="3.2" />
<rect x="1920.85" y="1113.10" width="9.00" height="9.00" fill="#2db4a2" />
<text x="1951.20" y="1123.90" font-family='"Liberation Sans", sans-serif' font-size="17.5" font-weight="bold" fill="#000000" text-anchor="start" textLength="114.00" lengthAdjust="spacingAndGlyphs" stroke="#000" stroke-width="0.35">High EBITDA</text>
<line x1="1242.50" y1="1516.50" x2="2202.80" y2="1516.50" stroke="#4a9fd6" stroke-width="1" />
<line x1="1242.50" y1="1465.50" x2="2202.80" y2="1465.50" stroke="#4a9fd6" stroke-width="1" />
<line x1="1242.50" y1="1415.50" x2="2202.80" y2="1415.50" stroke="#4a9fd6" stroke-width="1" />
<line x1="1242.50" y1="1364.50" x2="2202.80" y2="1364.50" stroke="#4a9fd6" stroke-width="1" />
<line x1="1242.50" y1="1314.50" x2="2202.80" y2="1314.50" stroke="#4a9fd6" stroke-width="1" />
<line x1="1242.50" y1="1263.50" x2="2202.80" y2="1263.50" stroke="#4a9fd6" stroke-width="1" />
<line x1="1242.50" y1="1213.50" x2="2202.80" y2="1213.50" stroke="#4a9fd6" stroke-width="1" />
<line x1="1338.50" y1="1162.70" x2="1338.50" y2="1566.80" stroke="#4a9fd6" stroke-width="1" />
<line x1="1434.50" y1="1162.70" x2="1434.50" y2="1566.80" stroke="#4a9fd6" stroke-width="1" />
<line x1="1530.50" y1="1162.70" x2="1530.50" y2="1566.80" stroke="#4a9fd6" stroke-width="1" />
<line x1="1626.50" y1="1162.70" x2="1626.50" y2="1566.80" stroke="#4a9fd6" stroke-width="1" />
<line x1="1722.50" y1="1162.70" x2="1722.50" y2="1566.80" stroke="#4a9fd6" stroke-width="1" />
<line x1="1818.50" y1="1162.70" x2="1818.50" y2="1566.80" stroke="#4a9fd6" stroke-width="1" />
<line x1="1914.50" y1="1162.70" x2="1914.50" y2="1566.80" stroke="#4a9fd6" stroke-width="1" />
<line x1="2010.50" y1="1162.70" x2="2010.50" y2="1566.80" stroke="#4a9fd6" stroke-width="1" />
<line x1="2106.50" y1="1162.70" x2="2106.50" y2="1566.80" stroke="#4a9fd6" stroke-width="1" />
<rect x="1242.50" y="1162.70" width="960.30" height="404.10" fill="none" stroke="#52a8d8" stroke-width="2"/>
<text x="1161.40" y="1573.10" font-family='"Liberation Sans", sans-serif' font-size="17.5" font-weight="bold" fill="#000" text-anchor="start" textLength="64.00" lengthAdjust="spacingAndGlyphs" stroke="#000" stroke-width="0.35">(2,000)</text>
<text x="1161.40" y="1522.59" font-family='"Liberation Sans", sans-serif' font-size="17.5" font-weight="bold" fill="#000" text-anchor="start" textLength="64.00" lengthAdjust="spacingAndGlyphs" stroke="#000" stroke-width="0.35">(1,000)</text>
<text x="1214.00" y="1472.08" font-family='"Liberation Sans", sans-serif' font-size="17.5" font-weight="bold" fill="#000" text-anchor="start" textLength="6.00" lengthAdjust="spacingAndGlyphs" >-</text>
<text x="1171.00" y="1421.56" font-family='"Liberation Sans", sans-serif' font-size="17.5" font-weight="bold" fill="#000" text-anchor="start" textLength="49.00" lengthAdjust="spacingAndGlyphs" stroke="#000" stroke-width="0.35">1,000</text>
<text x="1171.00" y="1371.05" font-family='"Liberation Sans", sans-serif' font-size="17.5" font-weight="bold" fill="#000" text-anchor="start" textLength="49.00" lengthAdjust="spacingAndGlyphs" stroke="#000" stroke-width="0.35">2,000</text>
<text x="1171.00" y="1320.54" font-family='"Liberation Sans", sans-serif' font-size="17.5" font-weight="bold" fill="#000" text-anchor="start" textLength="49.00" lengthAdjust="spacingAndGlyphs" stroke="#000" stroke-width="0.35">3,000</text>
<text x="1171.00" y="1270.02" font-family='"Liberation Sans", sans-serif' font-size="17.5" font-weight="bold" fill="#000" text-anchor="start" textLength="49.00" lengthAdjust="spacingAndGlyphs" stroke="#000" stroke-width="0.35">4,000</text>
<text x="1171.00" y="1219.51" font-family='"Liberation Sans", sans-serif' font-size="17.5" font-weight="bold" fill="#000" text-anchor="start" textLength="49.00" lengthAdjust="spacingAndGlyphs" stroke="#000" stroke-width="0.35">5,000</text>
<text x="1171.00" y="1169.00" font-family='"Liberation Sans", sans-serif' font-size="17.5" font-weight="bold" fill="#000" text-anchor="start" textLength="49.00" lengthAdjust="spacingAndGlyphs" stroke="#000" stroke-width="0.35">6,000</text>
<text x="1268.82" y="1616.40" font-family='"Liberation Sans", sans-serif' font-size="17" font-weight="bold" fill="#000" text-anchor="start" textLength="43.40" lengthAdjust="spacingAndGlyphs" stroke="#000" stroke-width="0.35">2026</text>
<text x="1364.85" y="1616.40" font-family='"Liberation Sans", sans-serif' font-size="17" font-weight="bold" fill="#000" text-anchor="start" textLength="43.40" lengthAdjust="spacingAndGlyphs" stroke="#000" stroke-width="0.35">2027</text>
<text x="1460.88" y="1616.40" font-family='"Liberation Sans", sans-serif' font-size="17" font-weight="bold" fill="#000" text-anchor="start" textLength="43.40" lengthAdjust="spacingAndGlyphs" stroke="#000" stroke-width="0.35">2028</text>
<text x="1556.90" y="1616.40" font-family='"Liberation Sans", sans-serif' font-size="17" font-weight="bold" fill="#000" text-anchor="start" textLength="43.40" lengthAdjust="spacingAndGlyphs" stroke="#000" stroke-width="0.35">2029</text>
<text x="1652.93" y="1616.40" font-family='"Liberation Sans", sans-serif' font-size="17" font-weight="bold" fill="#000" text-anchor="start" textLength="43.40" lengthAdjust="spacingAndGlyphs" stroke="#000" stroke-width="0.35">2030</text>
<text x="1748.96" y="1616.40" font-family='"Liberation Sans", sans-serif' font-size="17" font-weight="bold" fill="#000" text-anchor="start" textLength="43.40" lengthAdjust="spacingAndGlyphs" stroke="#000" stroke-width="0.35">2031</text>
<text x="1845.00" y="1616.40" font-family='"Liberation Sans", sans-serif' font-size="17" font-weight="bold" fill="#000" text-anchor="start" textLength="43.40" lengthAdjust="spacingAndGlyphs" stroke="#000" stroke-width="0.35">2032</text>
<text x="1941.03" y="1616.40" font-family='"Liberation Sans", sans-serif' font-size="17" font-weight="bold" fill="#000" text-anchor="start" textLength="43.40" lengthAdjust="spacingAndGlyphs" stroke="#000" stroke-width="0.35">2033</text>
<text x="2037.06" y="1616.40" font-family='"Liberation Sans", sans-serif' font-size="17" font-weight="bold" fill="#000" text-anchor="start" textLength="43.40" lengthAdjust="spacingAndGlyphs" stroke="#000" stroke-width="0.35">2034</text>
<text x="2133.09" y="1616.40" font-family='"Liberation Sans", sans-serif' font-size="17" font-weight="bold" fill="#000" text-anchor="start" textLength="43.40" lengthAdjust="spacingAndGlyphs" stroke="#000" stroke-width="0.35">2035</text>
<polyline points="1290.52,1501.69 1386.55,1510.02 1482.58,1510.02 1578.61,1505.68 1674.63,1501.69 1770.66,1493.81 1866.70,1479.82 1962.73,1462.29 2058.76,1429.86 2154.79,1367.17" fill="none" stroke="#ea7a6d" stroke-width="3.2" stroke-linejoin="round" stroke-linecap="round"/>
<path d="M1290.52,1494.67 L1297.02,1506.37 L1284.02,1506.37 Z" stroke="none" fill="#ea7a6d" stroke-width="1" />
<path d="M1386.55,1503.00 L1393.05,1514.70 L1380.05,1514.70 Z" stroke="none" fill="#ea7a6d" stroke-width="1" />
<path d="M1482.58,1503.00 L1489.08,1514.70 L1476.08,1514.70 Z" stroke="none" fill="#ea7a6d" stroke-width="1" />
<path d="M1578.61,1498.66 L1585.11,1510.36 L1572.11,1510.36 Z" stroke="none" fill="#ea7a6d" stroke-width="1" />
<path d="M1674.63,1494.67 L1681.13,1506.37 L1668.13,1506.37 Z" stroke="none" fill="#ea7a6d" stroke-width="1" />
<path d="M1770.66,1486.79 L1777.16,1498.49 L1764.16,1498.49 Z" stroke="none" fill="#ea7a6d" stroke-width="1" />
<path d="M1866.70,1472.80 L1873.20,1484.50 L1860.20,1484.50 Z" stroke="none" fill="#ea7a6d" stroke-width="1" />
<path d="M1962.73,1455.27 L1969.23,1466.97 L1956.23,1466.97 Z" stroke="none" fill="#ea7a6d" stroke-width="1" />
<path d="M2058.76,1422.84 L2065.26,1434.54 L2052.26,1434.54 Z" stroke="none" fill="#ea7a6d" stroke-width="1" />
<path d="M2154.79,1360.15 L2161.29,1371.85 L2148.29,1371.85 Z" stroke="none" fill="#ea7a6d" stroke-width="1" />
<polyline points="1290.52,1489.87 1386.55,1492.95 1482.58,1488.56 1578.61,1480.68 1674.63,1472.34 1770.66,1453.96 1866.70,1429.86 1962.73,1400.92 2058.76,1355.76 2154.79,1272.92" fill="none" stroke="#4eb1e6" stroke-width="3.2" stroke-linejoin="round" stroke-linecap="round"/>
<path d="M1290.52,1484.02 L1296.37,1489.87 L1290.52,1495.72 L1284.67,1489.87 Z" stroke="none" fill="#4eb1e6" stroke-width="1" />
<path d="M1386.55,1487.10 L1392.39,1492.95 L1386.55,1498.80 L1380.70,1492.95 Z" stroke="none" fill="#4eb1e6" stroke-width="1" />
<path d="M1482.58,1482.71 L1488.42,1488.56 L1482.58,1494.41 L1476.73,1488.56 Z" stroke="none" fill="#4eb1e6" stroke-width="1" />
<path d="M1578.61,1474.83 L1584.45,1480.68 L1578.61,1486.53 L1572.76,1480.68 Z" stroke="none" fill="#4eb1e6" stroke-width="1" />
<path d="M1674.63,1466.49 L1680.48,1472.34 L1674.63,1478.19 L1668.79,1472.34 Z" stroke="none" fill="#4eb1e6" stroke-width="1" />
<path d="M1770.66,1448.11 L1776.51,1453.96 L1770.66,1459.81 L1764.82,1453.96 Z" stroke="none" fill="#4eb1e6" stroke-width="1" />
<path d="M1866.70,1424.01 L1872.55,1429.86 L1866.70,1435.71 L1860.85,1429.86 Z" stroke="none" fill="#4eb1e6" stroke-width="1" />
<path d="M1962.73,1395.07 L1968.58,1400.92 L1962.73,1406.77 L1956.88,1400.92 Z" stroke="none" fill="#4eb1e6" stroke-width="1" />
<path d="M2058.76,1349.91 L2064.61,1355.76 L2058.76,1361.61 L2052.91,1355.76 Z" stroke="none" fill="#4eb1e6" stroke-width="1" />
<path d="M2154.79,1267.07 L2160.64,1272.92 L2154.79,1278.77 L2148.94,1272.92 Z" stroke="none" fill="#4eb1e6" stroke-width="1" />
<polyline points="1290.52,1479.82 1386.55,1477.59 1482.58,1470.17 1578.61,1457.90 1674.63,1443.85 1770.66,1417.59 1866.70,1385.11 1962.73,1346.11 2058.76,1288.27 2154.79,1188.36" fill="none" stroke="#2db4a2" stroke-width="3.2" stroke-linejoin="round" stroke-linecap="round"/>
<rect x="1284.02" y="1473.32" width="13.00" height="13.00" fill="#2db4a2" />
<rect x="1380.05" y="1471.09" width="13.00" height="13.00" fill="#2db4a2" />
<rect x="1476.08" y="1463.67" width="13.00" height="13.00" fill="#2db4a2" />
<rect x="1572.11" y="1451.40" width="13.00" height="13.00" fill="#2db4a2" />
<rect x="1668.13" y="1437.35" width="13.00" height="13.00" fill="#2db4a2" />
<rect x="1764.16" y="1411.09" width="13.00" height="13.00" fill="#2db4a2" />
<rect x="1860.20" y="1378.61" width="13.00" height="13.00" fill="#2db4a2" />
<rect x="1956.23" y="1339.61" width="13.00" height="13.00" fill="#2db4a2" />
<rect x="2052.26" y="1281.77" width="13.00" height="13.00" fill="#2db4a2" />
<rect x="2148.29" y="1181.86" width="13.00" height="13.00" fill="#2db4a2" />
<rect x="11.00" y="1670.00" width="2880.00" height="48.00" fill="#0a0a0a" />
<path d="M54.5,1686 L47,1693 L54.5,1700" stroke="#9a9a9a" fill="none" stroke-width="1.5" />
<path d="M95.5,1686 L103,1693 L95.5,1700" stroke="#d0d0d0" fill="none" stroke-width="1.5" />
<text x="190.00" y="1702.50" font-family='"Liberation Sans", sans-serif' font-size="20" font-weight="normal" fill="#f2f2f2" text-anchor="start" textLength="82.50" lengthAdjust="spacingAndGlyphs" >Contents</text>
<rect x="299.30" y="1676.30" width="127.40" height="35.50" fill="#ffe96b" rx="5.5" />
<text x="363.00" y="1702.50" font-family='"Liberation Sans", sans-serif' font-size="20" font-weight="normal" fill="#1a1a1a" text-anchor="middle" >Dashboard</text>
<rect x="440.00" y="1676.30" width="105.90" height="35.50" fill="#ffe96b" rx="5.5" />
<text x="492.95" y="1702.50" font-family='"Liberation Sans", sans-serif' font-size="20" font-weight="normal" fill="#1a1a1a" text-anchor="middle" >Revenue</text>
<rect x="559.00" y="1676.30" width="157.60" height="35.50" fill="#ffe96b" rx="5.5" />
<text x="637.80" y="1702.50" font-family='"Liberation Sans", sans-serif' font-size="20" font-weight="normal" fill="#1a1a1a" text-anchor="middle" >COGS &amp; OPEX</text>
<rect x="730.00" y="1676.30" width="89.00" height="35.50" fill="#ffe96b" rx="5.5" />
<text x="774.50" y="1702.50" font-family='"Liberation Sans", sans-serif' font-size="20" font-weight="normal" fill="#1a1a1a" text-anchor="middle" >Payroll</text>
<rect x="832.30" y="1676.30" width="86.70" height="35.50" fill="#ffe96b" rx="5.5" />
<text x="875.65" y="1702.50" font-family='"Liberation Sans", sans-serif' font-size="20" font-weight="normal" fill="#1a1a1a" text-anchor="middle" >CAPEX</text>
<rect x="932.30" y="1676.30" width="112.20" height="35.50" fill="#ffe96b" rx="5.5" />
<text x="988.40" y="1702.50" font-family='"Liberation Sans", sans-serif' font-size="20" font-weight="normal" fill="#1a1a1a" text-anchor="middle" >CapTable</text>
<rect x="1058.00" y="1676.30" width="89.60" height="35.50" fill="#ffe96b" rx="5.5" />
<text x="1102.80" y="1702.50" font-family='"Liberation Sans", sans-serif' font-size="20" font-weight="normal" fill="#1a1a1a" text-anchor="middle" >Capital</text>
<rect x="1160.80" y="1676.30" width="42.00" height="35.50" fill="#4fb3e6" rx="5.5" />
<text x="1181.80" y="1702.50" font-family='"Liberation Sans", sans-serif' font-size="20" font-weight="normal" fill="#1a1a1a" text-anchor="middle" >IS</text>
<rect x="1216.00" y="1676.30" width="47.60" height="35.50" fill="#4fb3e6" rx="5.5" />
<text x="1239.80" y="1702.50" font-family='"Liberation Sans", sans-serif' font-size="20" font-weight="normal" fill="#1a1a1a" text-anchor="middle" >CF</text>
<rect x="1277.00" y="1676.30" width="47.70" height="35.50" fill="#4fb3e6" rx="5.5" />
<text x="1300.85" y="1702.50" font-family='"Liberation Sans", sans-serif' font-size="20" font-weight="normal" fill="#1a1a1a" text-anchor="middle" >BS</text>
<rect x="1466.00" y="1676.30" width="115.00" height="35.50" fill="#4fb3e6" rx="5.5" />
<text x="1523.50" y="1702.50" font-family='"Liberation Sans", sans-serif' font-size="20" font-weight="normal" fill="#1a1a1a" text-anchor="middle" >Valuation</text>
<rect x="1594.00" y="1676.30" width="113.70" height="35.50" fill="#4fb3e6" rx="5.5" />
<text x="1650.85" y="1702.50" font-family='"Liberation Sans", sans-serif' font-size="20" font-weight="normal" fill="#1a1a1a" text-anchor="middle" >Summary</text>
<rect x="1721.00" y="1676.30" width="47.80" height="35.50" fill="#4fb3e6" rx="5.5" />
<text x="1744.90" y="1702.50" font-family='"Liberation Sans", sans-serif' font-size="20" font-weight="normal" fill="#1a1a1a" text-anchor="middle" >BE</text>
<rect x="1781.70" y="1676.30" width="72.30" height="35.50" fill="#4fb3e6" rx="5.5" />
<text x="1817.85" y="1702.50" font-family='"Liberation Sans", sans-serif' font-size="20" font-weight="normal" fill="#1a1a1a" text-anchor="middle" >ROIC</text>
<rect x="1867.00" y="1676.30" width="84.90" height="35.50" fill="#4fb3e6" rx="5.5" />
<text x="1909.45" y="1702.50" font-family='"Liberation Sans", sans-serif' font-size="20" font-weight="normal" fill="#1a1a1a" text-anchor="middle" >Charts</text>
<rect x="1964.80" y="1676.30" width="64.00" height="35.50" fill="#4fb3e6" rx="5.5" />
<text x="1996.80" y="1702.50" font-family='"Liberation Sans", sans-serif' font-size="20" font-weight="normal" fill="#1a1a1a" text-anchor="middle" >KPIs</text>
<line x1="292.00" y1="1680.00" x2="292.00" y2="1708.00" stroke="#3c3c3c" stroke-width="1.2" />
<line x1="433.00" y1="1680.00" x2="433.00" y2="1708.00" stroke="#3c3c3c" stroke-width="1.2" />
<line x1="552.70" y1="1680.00" x2="552.70" y2="1708.00" stroke="#3c3c3c" stroke-width="1.2" />
<line x1="723.50" y1="1680.00" x2="723.50" y2="1708.00" stroke="#3c3c3c" stroke-width="1.2" />
<line x1="825.70" y1="1680.00" x2="825.70" y2="1708.00" stroke="#3c3c3c" stroke-width="1.2" />
<line x1="925.70" y1="1680.00" x2="925.70" y2="1708.00" stroke="#3c3c3c" stroke-width="1.2" />
<line x1="1051.00" y1="1680.00" x2="1051.00" y2="1708.00" stroke="#3c3c3c" stroke-width="1.2" />
<line x1="1154.00" y1="1680.00" x2="1154.00" y2="1708.00" stroke="#3c3c3c" stroke-width="1.2" />
<line x1="1209.00" y1="1680.00" x2="1209.00" y2="1708.00" stroke="#3c3c3c" stroke-width="1.2" />
<line x1="1270.00" y1="1680.00" x2="1270.00" y2="1708.00" stroke="#3c3c3c" stroke-width="1.2" />
<line x1="1331.00" y1="1680.00" x2="1331.00" y2="1708.00" stroke="#3c3c3c" stroke-width="1.2" />
<line x1="1459.70" y1="1680.00" x2="1459.70" y2="1708.00" stroke="#3c3c3c" stroke-width="1.2" />
<line x1="1587.60" y1="1680.00" x2="1587.60" y2="1708.00" stroke="#3c3c3c" stroke-width="1.2" />
<line x1="1714.50" y1="1680.00" x2="1714.50" y2="1708.00" stroke="#3c3c3c" stroke-width="1.2" />
<line x1="1775.00" y1="1680.00" x2="1775.00" y2="1708.00" stroke="#3c3c3c" stroke-width="1.2" />
<line x1="1860.60" y1="1680.00" x2="1860.60" y2="1708.00" stroke="#3c3c3c" stroke-width="1.2" />
<line x1="1958.50" y1="1680.00" x2="1958.50" y2="1708.00" stroke="#3c3c3c" stroke-width="1.2" />
<line x1="2035.50" y1="1680.00" x2="2035.50" y2="1708.00" stroke="#3c3c3c" stroke-width="1.2" />
<clipPath id="sc"><rect x="2040" y="1670" width="32" height="48"/></clipPath>
<g clip-path="url(#sc)">
<rect x="2042.00" y="1676.30" width="60.00" height="35.50" fill="#4fb3e6" rx="5.5" />
<text x="2051.00" y="1702.50" font-family='"Liberation Sans", sans-serif' font-size="20" font-weight="normal" fill="#1a1a1a" text-anchor="start" >Scenarios</text>
</g>
<defs><linearGradient id="act" x1="0" y1="0" x2="0" y2="1"><stop offset="0" stop-color="#ffffff"/><stop offset="0.45" stop-color="#f4f9fd"/><stop offset="1" stop-color="#cfe5f5"/></linearGradient></defs>
<path d="M1331.5,1670 Q1337.5,1670 1337.5,1676 L1337.5,1706 Q1337.5,1712 1343.5,1712 L1448,1712 Q1454,1712 1454,1706 L1454,1676 Q1454,1670 1460,1670 Z" stroke="none" fill="url(#act)" stroke-width="1" />
<text x="1350.00" y="1697.50" font-family='"Liberation Sans", sans-serif' font-size="20" font-weight="normal" fill="#1a1a1a" text-anchor="start" textLength="90.50" lengthAdjust="spacingAndGlyphs" >Scenarios</text>
<rect x="1350.00" y="1705.00" width="91.00" height="3.20" fill="#1f8a4c" rx="1" />
<circle cx="2089.5" cy="1692.5" r="2.3" fill="#e0e0e0"/>
<circle cx="2095" cy="1692.5" r="2.3" fill="#e0e0e0"/>
<circle cx="2100.5" cy="1692.5" r="2.3" fill="#e0e0e0"/>
<line x1="2134.50" y1="1693.00" x2="2152.00" y2="1693.00" stroke="#e8e8e8" stroke-width="1.6" />
<line x1="2143.30" y1="1684.50" x2="2143.30" y2="1701.50" stroke="#e8e8e8" stroke-width="1.6" />
<circle cx="2192" cy="1687" r="1.7" fill="#e0e0e0"/>
<circle cx="2192" cy="1693" r="1.7" fill="#e0e0e0"/>
<circle cx="2192" cy="1699" r="1.7" fill="#e0e0e0"/>
<rect x="2216.80" y="1680.00" width="642.00" height="26.00" fill="#141414" rx="13" />
<path d="M2234,1687 L2234,1700 L2225,1693.5 Z" stroke="none" fill="#9a9a9a" stroke-width="1" />
<rect x="2242.00" y="1687.00" width="583.00" height="12.00" fill="#9c9c9c" rx="6" />
<path d="M2842,1687 L2842,1700 L2851.5,1693.5 Z" stroke="none" fill="#9a9a9a" stroke-width="1" />
<rect x="2864.00" y="300.00" width="24.60" height="1370.00" fill="#0a0a0a" />
<rect x="2864.50" y="282.00" width="24.00" height="1394.00" fill="#121212" rx="12" />
<path d="M2876,286 L2883,296 L2869,296 Z" stroke="none" fill="#9a9a9a" stroke-width="1" />
<rect x="2870.00" y="303.80" width="12.00" height="1176.00" fill="#9c9c9c" rx="6" />
<path d="M2869,1654 L2883,1654 L2876,1664 Z" stroke="none" fill="#9a9a9a" stroke-width="1" />
<rect x="11.00" y="1718.00" width="2880.00" height="32.50" fill="#141414" />
<line x1="11.00" y1="1718.50" x2="2891.00" y2="1718.50" stroke="#2e2e2e" stroke-width="1" />
<text x="27.40" y="1741.00" font-family='"Liberation Sans", sans-serif' font-size="17" font-weight="normal" fill="#e0e0e0" text-anchor="start" textLength="42.20" lengthAdjust="spacingAndGlyphs" >Ready</text>
<rect x="100.2" y="1727" width="19.6" height="16" stroke="#f4f4f4" stroke-width="2" fill="none"/>
<line x1="100.20" y1="1731.20" x2="119.80" y2="1731.20" stroke="#f4f4f4" stroke-width="2" />
<line x1="102.00" y1="1734.50" x2="106.50" y2="1734.50" stroke="#f4f4f4" stroke-width="1.5" />
<line x1="102.00" y1="1737.70" x2="106.50" y2="1737.70" stroke="#f4f4f4" stroke-width="1.5" />
<line x1="102.00" y1="1740.80" x2="106.50" y2="1740.80" stroke="#f4f4f4" stroke-width="1.5" />
<circle cx="113.5" cy="1739.3" r="5.9" stroke="#f4f4f4" stroke-width="2" fill="#141414"/><circle cx="113.5" cy="1739.3" r="2.9" fill="#f4f4f4"/>
<circle cx="155.4" cy="1727.2" r="2.6" stroke="#f4f4f4" stroke-width="1.8" fill="none"/>
<path d="M147.5,1730.6 Q148,1729 150,1730 Q155.4,1732.2 160.8,1730 Q162.8,1729 163.3,1730.6 Q163,1732 160.5,1732.8 L158.3,1733.8 L158.3,1736.5" stroke="#f4f4f4" fill="none" stroke-width="1.6" stroke-linejoin="round" stroke-linecap="round"/>
<path d="M147.5,1730.6 Q148,1732 150.3,1732.8 L152.5,1733.8 L152.5,1738 L150,1744 Q149.5,1745.5 151,1745.3 Q152.5,1745 153.3,1743 L155.3,1738.8 L156.5,1741" stroke="#f4f4f4" fill="none" stroke-width="1.6" stroke-linejoin="round" stroke-linecap="round"/>
<path d="M157.5,1735.5 L167,1745.5 M167,1735.5 L157.5,1745.5" stroke="#f4f4f4" fill="none" stroke-width="1.5" />
<text x="173.00" y="1741.00" font-family='"Liberation Sans", sans-serif' font-size="17" font-weight="bold" fill="#ffffff" text-anchor="start" textLength="188.00" lengthAdjust="spacingAndGlyphs" >Accessibility: Investigate</text>
<rect x="2444.70" y="1719.00" width="60.10" height="31.50" fill="#262626" />
<rect x="2465" y="1725.7" width="17.4" height="16.7" stroke="#f2f2f2" stroke-width="2" fill="none"/>
<line x1="2465.00" y1="1731.30" x2="2482.40" y2="1731.30" stroke="#f2f2f2" stroke-width="1.8" />
<line x1="2465.00" y1="1736.90" x2="2482.40" y2="1736.90" stroke="#f2f2f2" stroke-width="1.8" />
<line x1="2470.80" y1="1725.70" x2="2470.80" y2="1742.40" stroke="#f2f2f2" stroke-width="1.8" />
<line x1="2476.60" y1="1725.70" x2="2476.60" y2="1742.40" stroke="#f2f2f2" stroke-width="1.8" />
<rect x="2525" y="1725.7" width="19.5" height="16.7" stroke="#f2f2f2" stroke-width="2" fill="none"/>
<rect x="2529.5" y="1729" width="10.5" height="10" stroke="#f2f2f2" stroke-width="1.4" fill="none"/>
<line x1="2531.50" y1="1732.30" x2="2538.00" y2="1732.30" stroke="#f2f2f2" stroke-width="1.2" />
<line x1="2531.50" y1="1735.70" x2="2538.00" y2="1735.70" stroke="#f2f2f2" stroke-width="1.2" />
<path d="M2585,1725.7 L2585,1742.4 L2604.6,1742.4 L2604.6,1725.7 L2596.5,1725.7 L2596.5,1734.5 L2585,1734.5 M2590.8,1725.7 L2590.8,1734.5" stroke="#f2f2f2" fill="none" stroke-width="2" />
<line x1="2633.00" y1="1734.50" x2="2645.00" y2="1734.50" stroke="#e0e0e0" stroke-width="1.3" />
<line x1="2653.00" y1="1735.00" x2="2801.00" y2="1735.00" stroke="#bdbdbd" stroke-width="1.6" />
<rect x="2726.00" y="1726.00" width="8.00" height="17.00" fill="#bdbdbd" />
<line x1="2809.00" y1="1734.50" x2="2821.00" y2="1734.50" stroke="#e0e0e0" stroke-width="1.3" />
<line x1="2815.00" y1="1728.50" x2="2815.00" y2="1740.50" stroke="#e0e0e0" stroke-width="1.3" />
<text x="2840.00" y="1741.00" font-family='"Liberation Sans", sans-serif' font-size="17" font-weight="normal" fill="#e8e8e8" text-anchor="start" textLength="39.00" lengthAdjust="spacingAndGlyphs" >110%</text>
</svg></body></html>
